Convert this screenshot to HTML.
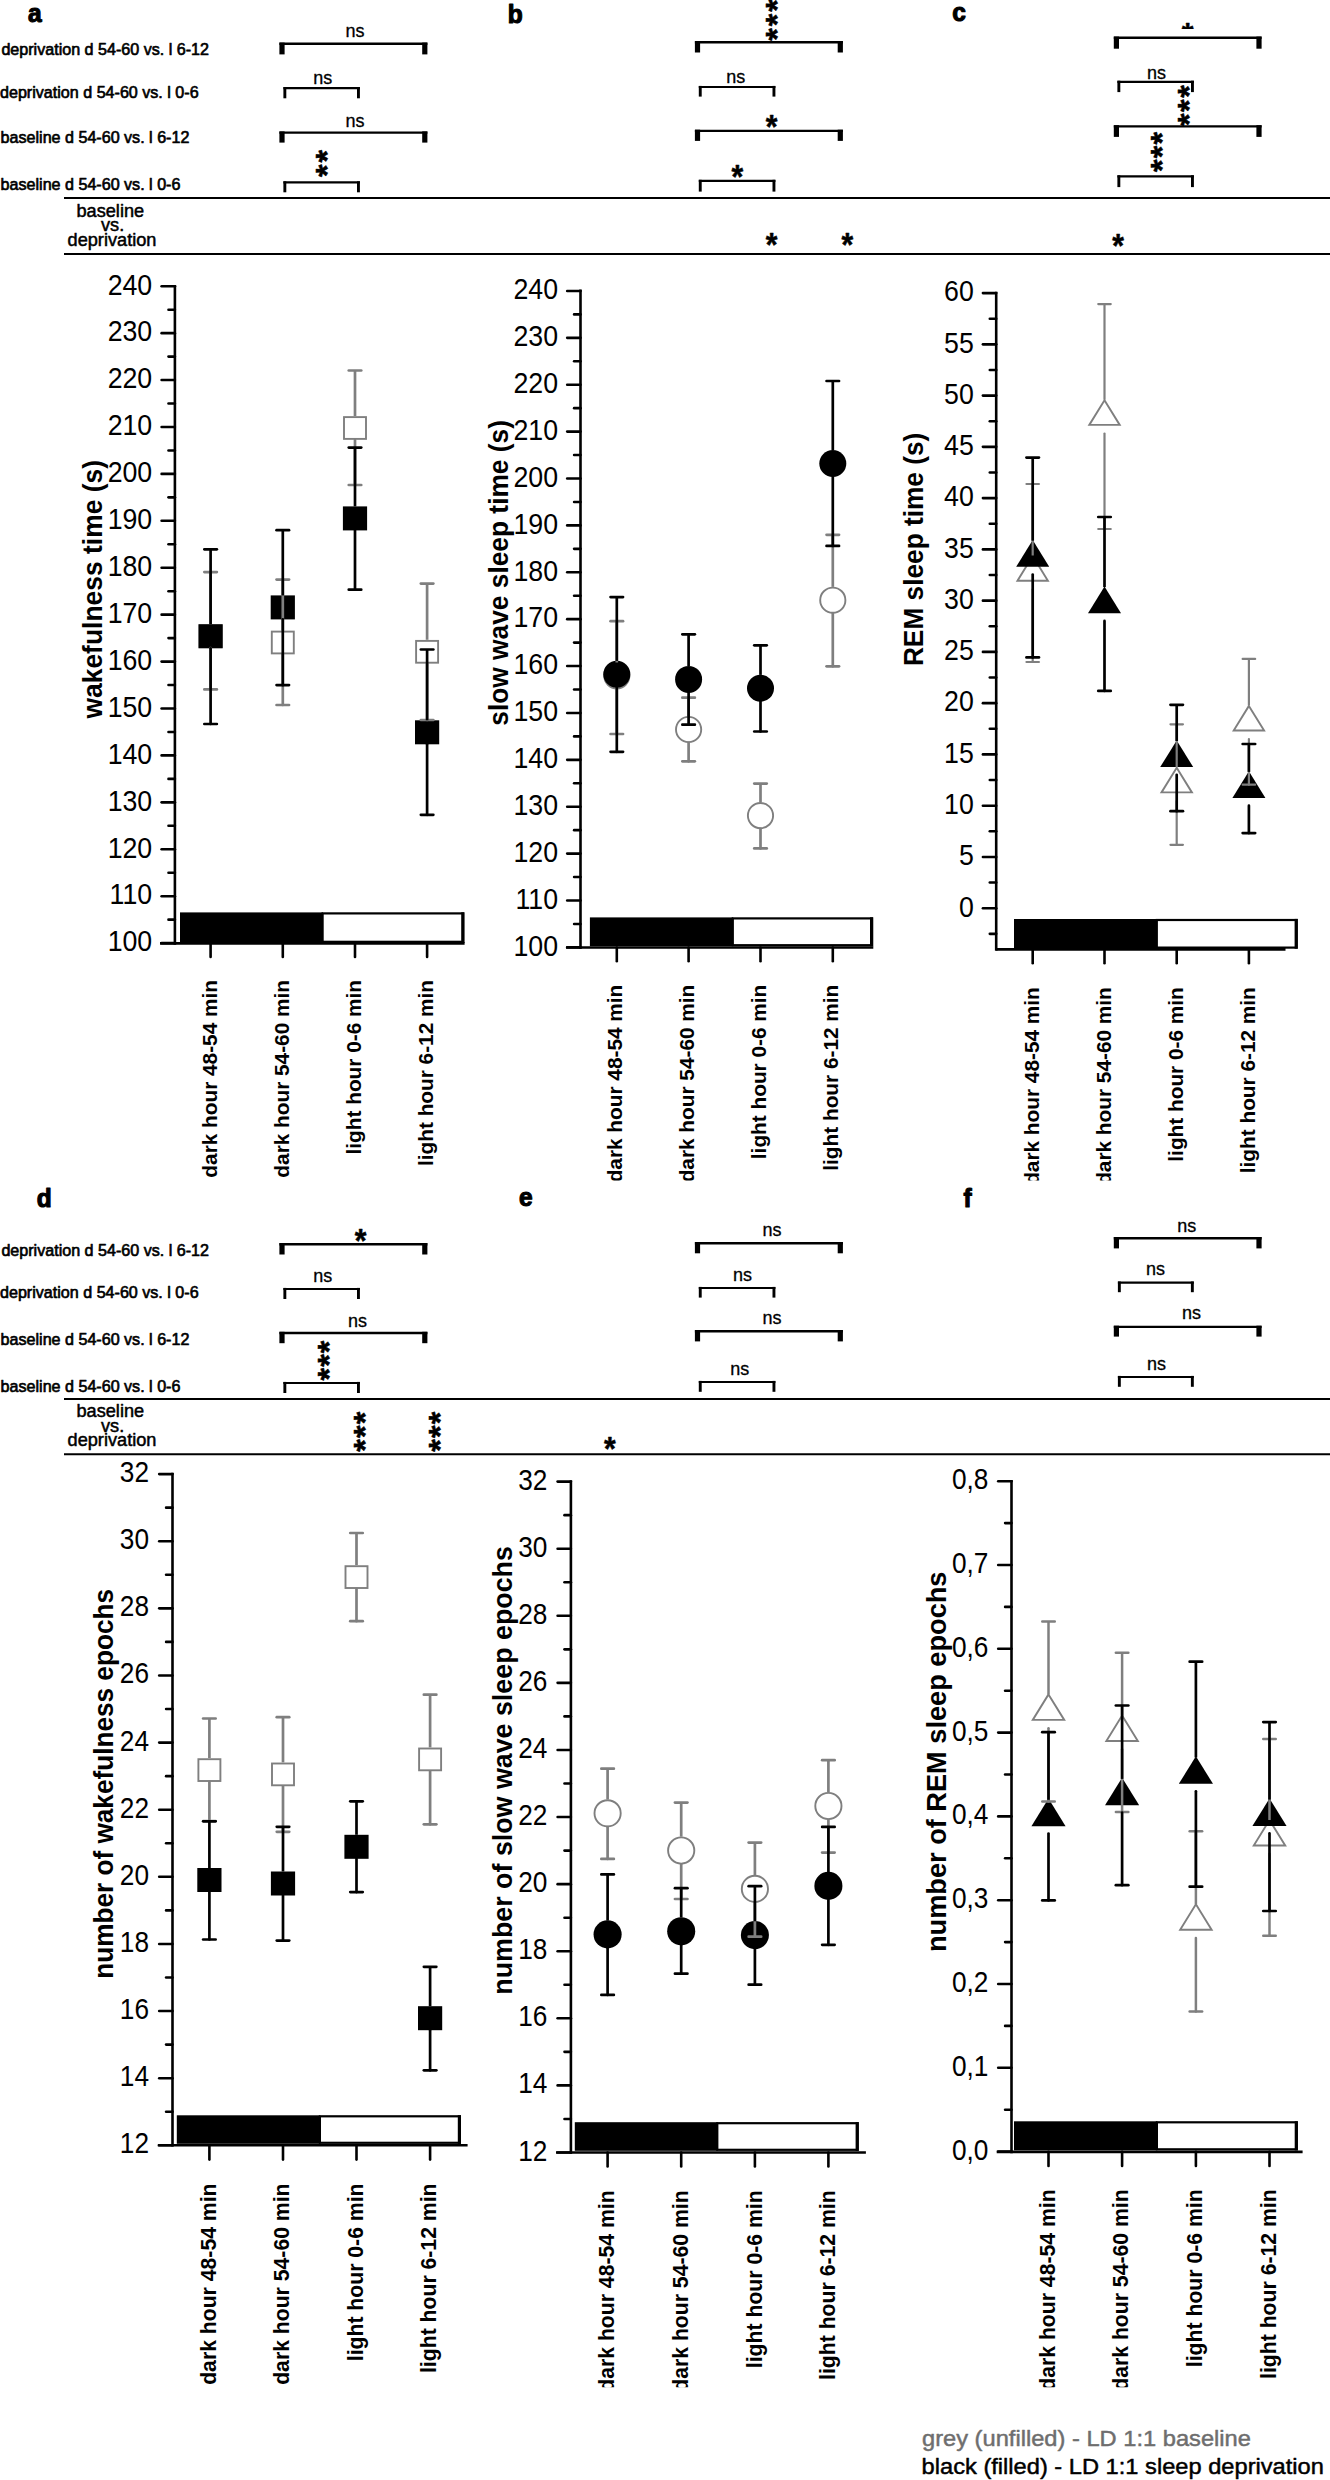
<!DOCTYPE html>
<html lang="en"><head><meta charset="utf-8"><title>Sleep deprivation figure</title>
<style>html,body{margin:0;padding:0;background:#fff}svg{display:block}</style></head><body>
<svg width="1330" height="2480" viewBox="0 0 1330 2480" font-family="'Liberation Sans', Arial, Helvetica, sans-serif">
<defs><clipPath id="cl1"><rect x="0" y="950" width="1330" height="230.6"/></clipPath><clipPath id="cl2"><rect x="0" y="2150" width="1330" height="237.2"/></clipPath><clipPath id="cl3"><rect x="1100" y="0" width="200" height="28.9"/></clipPath></defs>
<rect width="1330" height="2480" fill="#fff"/>
<text transform="translate(27.90,21.50) scale(1.0000,1.0400)" font-size="24.5" font-weight="bold" stroke="#000" stroke-width="1.1" stroke-linejoin="round">a</text>
<text transform="translate(507.80,23.30) scale(1.0000,1.0400)" font-size="24.5" font-weight="bold" stroke="#000" stroke-width="1.1" stroke-linejoin="round">b</text>
<text transform="translate(952.30,21.30) scale(1.0000,1.0400)" font-size="24.5" font-weight="bold" stroke="#000" stroke-width="1.1" stroke-linejoin="round">c</text>
<text transform="translate(36.80,1206.90) scale(1.0000,1.0400)" font-size="24.5" font-weight="bold" stroke="#000" stroke-width="1.1" stroke-linejoin="round">d</text>
<text transform="translate(518.90,1205.60) scale(1.0000,1.0400)" font-size="24.5" font-weight="bold" stroke="#000" stroke-width="1.1" stroke-linejoin="round">e</text>
<text transform="translate(963.40,1206.50) scale(1.0000,1.0400)" font-size="24.5" font-weight="bold" stroke="#000" stroke-width="1.1" stroke-linejoin="round">f</text>
<text transform="translate(1.40,54.90)" font-size="16.1" stroke="#000" stroke-width="0.65" stroke-linejoin="round">deprivation d 54-60 vs. l 6-12</text>
<text transform="translate(0.00,97.70)" font-size="16.1" stroke="#000" stroke-width="0.65" stroke-linejoin="round">deprivation d 54-60 vs. l 0-6</text>
<text transform="translate(0.60,143.30)" font-size="16.1" stroke="#000" stroke-width="0.65" stroke-linejoin="round">baseline d 54-60 vs. l 6-12</text>
<text transform="translate(0.60,190.00)" font-size="16.1" stroke="#000" stroke-width="0.65" stroke-linejoin="round">baseline d 54-60 vs. l 0-6</text>
<text transform="translate(1.40,1255.60)" font-size="16.1" stroke="#000" stroke-width="0.65" stroke-linejoin="round">deprivation d 54-60 vs. l 6-12</text>
<text transform="translate(0.00,1298.30)" font-size="16.1" stroke="#000" stroke-width="0.65" stroke-linejoin="round">deprivation d 54-60 vs. l 0-6</text>
<text transform="translate(0.60,1344.70)" font-size="16.1" stroke="#000" stroke-width="0.65" stroke-linejoin="round">baseline d 54-60 vs. l 6-12</text>
<text transform="translate(0.60,1391.70)" font-size="16.1" stroke="#000" stroke-width="0.65" stroke-linejoin="round">baseline d 54-60 vs. l 0-6</text>
<text transform="translate(110.30,216.50) scale(1.0000,0.9700)" font-size="18.2" text-anchor="middle" stroke="#000" stroke-width="0.5" stroke-linejoin="round">baseline</text>
<text transform="translate(112.60,231.10) scale(1.0000,0.9700)" font-size="18.2" text-anchor="middle" stroke="#000" stroke-width="0.5" stroke-linejoin="round">vs.</text>
<text transform="translate(112.00,245.50) scale(1.0000,0.9700)" font-size="18.2" text-anchor="middle" stroke="#000" stroke-width="0.5" stroke-linejoin="round">deprivation</text>
<text transform="translate(110.30,1416.90) scale(1.0000,0.9700)" font-size="18.2" text-anchor="middle" stroke="#000" stroke-width="0.5" stroke-linejoin="round">baseline</text>
<text transform="translate(112.60,1431.50) scale(1.0000,0.9700)" font-size="18.2" text-anchor="middle" stroke="#000" stroke-width="0.5" stroke-linejoin="round">vs.</text>
<text transform="translate(112.00,1445.90) scale(1.0000,0.9700)" font-size="18.2" text-anchor="middle" stroke="#000" stroke-width="0.5" stroke-linejoin="round">deprivation</text>
<line x1="64.00" y1="197.90" x2="1330.00" y2="197.90" stroke="#000" stroke-width="2.0"/>
<line x1="64.00" y1="254.10" x2="1330.00" y2="254.10" stroke="#000" stroke-width="2.0"/>
<line x1="64.00" y1="1398.90" x2="1330.00" y2="1398.90" stroke="#000" stroke-width="2.0"/>
<line x1="64.00" y1="1454.30" x2="1330.00" y2="1454.30" stroke="#000" stroke-width="2.0"/>
<line x1="279.40" y1="43.80" x2="427.40" y2="43.80" stroke="#000" stroke-width="2.4"/>
<rect x="279.40" y="42.60" width="5.20" height="11.80" fill="#000"/>
<rect x="422.20" y="42.60" width="5.20" height="11.80" fill="#000"/>
<text transform="translate(355.00,36.90)" font-size="18" text-anchor="middle" stroke="#000" stroke-width="0.3" stroke-linejoin="round">ns</text>
<line x1="283.40" y1="88.20" x2="359.90" y2="88.20" stroke="#000" stroke-width="2.2"/>
<rect x="283.40" y="87.10" width="2.90" height="11.20" fill="#000"/>
<rect x="357.00" y="87.10" width="2.90" height="11.20" fill="#000"/>
<text transform="translate(322.70,83.60)" font-size="18" text-anchor="middle" stroke="#000" stroke-width="0.3" stroke-linejoin="round">ns</text>
<line x1="279.40" y1="132.60" x2="427.40" y2="132.60" stroke="#000" stroke-width="2.4"/>
<rect x="279.40" y="131.40" width="5.20" height="11.20" fill="#000"/>
<rect x="422.20" y="131.40" width="5.20" height="11.20" fill="#000"/>
<text transform="translate(355.00,126.60)" font-size="18" text-anchor="middle" stroke="#000" stroke-width="0.3" stroke-linejoin="round">ns</text>
<line x1="283.40" y1="182.40" x2="359.90" y2="182.40" stroke="#000" stroke-width="2.2"/>
<rect x="283.40" y="181.30" width="2.90" height="11.00" fill="#000"/>
<rect x="357.00" y="181.30" width="2.90" height="11.00" fill="#000"/>
<text transform="translate(337.53,162.56) rotate(-90) scale(1.0036,0.9713)" font-size="32" font-weight="bold" stroke="#000" stroke-width="0.5" stroke-linejoin="round">*</text>
<text transform="translate(337.53,176.96) rotate(-90) scale(1.0036,0.9713)" font-size="32" font-weight="bold" stroke="#000" stroke-width="0.5" stroke-linejoin="round">*</text>
<line x1="694.90" y1="42.30" x2="842.90" y2="42.30" stroke="#000" stroke-width="2.4"/>
<rect x="694.90" y="41.10" width="5.20" height="11.40" fill="#000"/>
<rect x="837.70" y="41.10" width="5.20" height="11.40" fill="#000"/>
<text transform="translate(787.73,11.86) rotate(-90) scale(1.0036,0.9713)" font-size="32" font-weight="bold" stroke="#000" stroke-width="0.5" stroke-linejoin="round">*</text>
<text transform="translate(787.73,26.31) rotate(-90) scale(1.0036,0.9713)" font-size="32" font-weight="bold" stroke="#000" stroke-width="0.5" stroke-linejoin="round">*</text>
<text transform="translate(787.73,40.76) rotate(-90) scale(1.0036,0.9713)" font-size="32" font-weight="bold" stroke="#000" stroke-width="0.5" stroke-linejoin="round">*</text>
<line x1="698.80" y1="87.00" x2="775.40" y2="87.00" stroke="#000" stroke-width="2.2"/>
<rect x="698.80" y="85.90" width="2.90" height="10.70" fill="#000"/>
<rect x="772.50" y="85.90" width="2.90" height="10.70" fill="#000"/>
<text transform="translate(735.70,82.60)" font-size="18" text-anchor="middle" stroke="#000" stroke-width="0.3" stroke-linejoin="round">ns</text>
<line x1="694.90" y1="130.90" x2="842.90" y2="130.90" stroke="#000" stroke-width="2.4"/>
<rect x="694.90" y="129.70" width="5.20" height="11.20" fill="#000"/>
<rect x="837.70" y="129.70" width="5.20" height="11.20" fill="#000"/>
<text transform="translate(765.65,137.66) scale(0.9383,1.0473)" font-size="32" font-weight="bold" stroke="#000" stroke-width="0.5" stroke-linejoin="round">*</text>
<line x1="698.80" y1="180.90" x2="775.40" y2="180.90" stroke="#000" stroke-width="2.2"/>
<rect x="698.80" y="179.80" width="2.90" height="11.80" fill="#000"/>
<rect x="772.50" y="179.80" width="2.90" height="11.80" fill="#000"/>
<text transform="translate(731.55,187.76) scale(0.9383,1.0473)" font-size="32" font-weight="bold" stroke="#000" stroke-width="0.5" stroke-linejoin="round">*</text>
<text transform="translate(765.65,256.26) scale(0.9383,1.0473)" font-size="32" font-weight="bold" stroke="#000" stroke-width="0.5" stroke-linejoin="round">*</text>
<text transform="translate(841.45,256.26) scale(0.9383,1.0473)" font-size="32" font-weight="bold" stroke="#000" stroke-width="0.5" stroke-linejoin="round">*</text>
<line x1="1113.80" y1="37.80" x2="1261.60" y2="37.80" stroke="#000" stroke-width="2.4"/>
<rect x="1113.80" y="36.60" width="5.20" height="12.10" fill="#000"/>
<rect x="1256.40" y="36.60" width="5.20" height="12.10" fill="#000"/>
<g clip-path="url(#cl3)">
<text transform="translate(1181.85,45.66) scale(0.9465,1.0473)" font-size="32" font-weight="bold" stroke="#000" stroke-width="0.5" stroke-linejoin="round">*</text>
</g>
<line x1="1117.40" y1="81.80" x2="1193.90" y2="81.80" stroke="#000" stroke-width="2.2"/>
<rect x="1117.40" y="80.70" width="2.90" height="11.40" fill="#000"/>
<rect x="1191.00" y="80.70" width="2.90" height="11.40" fill="#000"/>
<text transform="translate(1156.50,79.10)" font-size="18" text-anchor="middle" stroke="#000" stroke-width="0.3" stroke-linejoin="round">ns</text>
<text transform="translate(1200.13,97.76) rotate(-90) scale(1.0036,0.9713)" font-size="32" font-weight="bold" stroke="#000" stroke-width="0.5" stroke-linejoin="round">*</text>
<text transform="translate(1200.13,111.91) rotate(-90) scale(1.0036,0.9713)" font-size="32" font-weight="bold" stroke="#000" stroke-width="0.5" stroke-linejoin="round">*</text>
<text transform="translate(1200.13,126.06) rotate(-90) scale(1.0036,0.9713)" font-size="32" font-weight="bold" stroke="#000" stroke-width="0.5" stroke-linejoin="round">*</text>
<line x1="1113.80" y1="126.40" x2="1261.60" y2="126.40" stroke="#000" stroke-width="2.4"/>
<rect x="1113.80" y="125.20" width="5.20" height="11.70" fill="#000"/>
<rect x="1256.40" y="125.20" width="5.20" height="11.70" fill="#000"/>
<text transform="translate(1172.73,144.46) rotate(-90) scale(1.0036,0.9713)" font-size="32" font-weight="bold" stroke="#000" stroke-width="0.5" stroke-linejoin="round">*</text>
<text transform="translate(1172.73,158.26) rotate(-90) scale(1.0036,0.9713)" font-size="32" font-weight="bold" stroke="#000" stroke-width="0.5" stroke-linejoin="round">*</text>
<text transform="translate(1172.73,172.06) rotate(-90) scale(1.0036,0.9713)" font-size="32" font-weight="bold" stroke="#000" stroke-width="0.5" stroke-linejoin="round">*</text>
<line x1="1117.40" y1="176.40" x2="1193.90" y2="176.40" stroke="#000" stroke-width="2.2"/>
<rect x="1117.40" y="175.30" width="2.90" height="11.80" fill="#000"/>
<rect x="1191.00" y="175.30" width="2.90" height="11.80" fill="#000"/>
<text transform="translate(1112.15,256.56) scale(0.9383,1.0473)" font-size="32" font-weight="bold" stroke="#000" stroke-width="0.5" stroke-linejoin="round">*</text>
<line x1="279.40" y1="1244.30" x2="427.40" y2="1244.30" stroke="#000" stroke-width="2.4"/>
<rect x="279.40" y="1243.10" width="5.20" height="11.40" fill="#000"/>
<rect x="422.20" y="1243.10" width="5.20" height="11.40" fill="#000"/>
<text transform="translate(354.85,1251.86) scale(0.9383,1.0473)" font-size="32" font-weight="bold" stroke="#000" stroke-width="0.5" stroke-linejoin="round">*</text>
<line x1="283.40" y1="1289.00" x2="359.90" y2="1289.00" stroke="#000" stroke-width="2.2"/>
<rect x="283.40" y="1287.90" width="2.90" height="11.10" fill="#000"/>
<rect x="357.00" y="1287.90" width="2.90" height="11.10" fill="#000"/>
<text transform="translate(322.70,1282.10)" font-size="18" text-anchor="middle" stroke="#000" stroke-width="0.3" stroke-linejoin="round">ns</text>
<line x1="279.40" y1="1333.00" x2="427.40" y2="1333.00" stroke="#000" stroke-width="2.4"/>
<rect x="279.40" y="1331.80" width="5.20" height="11.40" fill="#000"/>
<rect x="422.20" y="1331.80" width="5.20" height="11.40" fill="#000"/>
<text transform="translate(357.50,1327.10)" font-size="18" text-anchor="middle" stroke="#000" stroke-width="0.3" stroke-linejoin="round">ns</text>
<line x1="283.40" y1="1383.00" x2="359.90" y2="1383.00" stroke="#000" stroke-width="2.2"/>
<rect x="283.40" y="1381.90" width="2.90" height="11.10" fill="#000"/>
<rect x="357.00" y="1381.90" width="2.90" height="11.10" fill="#000"/>
<text transform="translate(339.93,1353.16) rotate(-90) scale(1.0036,0.9713)" font-size="32" font-weight="bold" stroke="#000" stroke-width="0.5" stroke-linejoin="round">*</text>
<text transform="translate(339.93,1366.81) rotate(-90) scale(1.0036,0.9713)" font-size="32" font-weight="bold" stroke="#000" stroke-width="0.5" stroke-linejoin="round">*</text>
<text transform="translate(339.93,1380.46) rotate(-90) scale(1.0036,0.9713)" font-size="32" font-weight="bold" stroke="#000" stroke-width="0.5" stroke-linejoin="round">*</text>
<text transform="translate(375.93,1424.26) rotate(-90) scale(1.0036,0.9713)" font-size="32" font-weight="bold" stroke="#000" stroke-width="0.5" stroke-linejoin="round">*</text>
<text transform="translate(375.93,1438.06) rotate(-90) scale(1.0036,0.9713)" font-size="32" font-weight="bold" stroke="#000" stroke-width="0.5" stroke-linejoin="round">*</text>
<text transform="translate(375.93,1451.86) rotate(-90) scale(1.0036,0.9713)" font-size="32" font-weight="bold" stroke="#000" stroke-width="0.5" stroke-linejoin="round">*</text>
<text transform="translate(451.23,1424.26) rotate(-90) scale(1.0036,0.9713)" font-size="32" font-weight="bold" stroke="#000" stroke-width="0.5" stroke-linejoin="round">*</text>
<text transform="translate(451.23,1438.06) rotate(-90) scale(1.0036,0.9713)" font-size="32" font-weight="bold" stroke="#000" stroke-width="0.5" stroke-linejoin="round">*</text>
<text transform="translate(451.23,1451.86) rotate(-90) scale(1.0036,0.9713)" font-size="32" font-weight="bold" stroke="#000" stroke-width="0.5" stroke-linejoin="round">*</text>
<line x1="694.90" y1="1243.30" x2="842.90" y2="1243.30" stroke="#000" stroke-width="2.4"/>
<rect x="694.90" y="1242.10" width="5.20" height="11.20" fill="#000"/>
<rect x="837.70" y="1242.10" width="5.20" height="11.20" fill="#000"/>
<text transform="translate(771.90,1236.10)" font-size="18" text-anchor="middle" stroke="#000" stroke-width="0.3" stroke-linejoin="round">ns</text>
<line x1="698.80" y1="1288.00" x2="775.40" y2="1288.00" stroke="#000" stroke-width="2.2"/>
<rect x="698.80" y="1286.90" width="2.90" height="10.70" fill="#000"/>
<rect x="772.50" y="1286.90" width="2.90" height="10.70" fill="#000"/>
<text transform="translate(742.50,1281.10)" font-size="18" text-anchor="middle" stroke="#000" stroke-width="0.3" stroke-linejoin="round">ns</text>
<line x1="694.90" y1="1331.30" x2="842.90" y2="1331.30" stroke="#000" stroke-width="2.4"/>
<rect x="694.90" y="1330.10" width="5.20" height="11.30" fill="#000"/>
<rect x="837.70" y="1330.10" width="5.20" height="11.30" fill="#000"/>
<text transform="translate(771.90,1324.10)" font-size="18" text-anchor="middle" stroke="#000" stroke-width="0.3" stroke-linejoin="round">ns</text>
<line x1="698.80" y1="1382.00" x2="775.40" y2="1382.00" stroke="#000" stroke-width="2.2"/>
<rect x="698.80" y="1380.90" width="2.90" height="10.90" fill="#000"/>
<rect x="772.50" y="1380.90" width="2.90" height="10.90" fill="#000"/>
<text transform="translate(739.80,1374.80)" font-size="18" text-anchor="middle" stroke="#000" stroke-width="0.3" stroke-linejoin="round">ns</text>
<text transform="translate(604.05,1460.06) scale(0.9383,1.0473)" font-size="32" font-weight="bold" stroke="#000" stroke-width="0.5" stroke-linejoin="round">*</text>
<line x1="1113.80" y1="1238.20" x2="1261.60" y2="1238.20" stroke="#000" stroke-width="2.4"/>
<rect x="1113.80" y="1237.00" width="5.20" height="11.40" fill="#000"/>
<rect x="1256.40" y="1237.00" width="5.20" height="11.40" fill="#000"/>
<text transform="translate(1186.70,1232.10)" font-size="18" text-anchor="middle" stroke="#000" stroke-width="0.3" stroke-linejoin="round">ns</text>
<line x1="1117.90" y1="1282.60" x2="1193.80" y2="1282.60" stroke="#000" stroke-width="2.2"/>
<rect x="1117.90" y="1281.50" width="2.90" height="10.70" fill="#000"/>
<rect x="1190.90" y="1281.50" width="2.90" height="10.70" fill="#000"/>
<text transform="translate(1155.40,1275.00)" font-size="18" text-anchor="middle" stroke="#000" stroke-width="0.3" stroke-linejoin="round">ns</text>
<line x1="1113.80" y1="1326.90" x2="1261.60" y2="1326.90" stroke="#000" stroke-width="2.4"/>
<rect x="1113.80" y="1325.70" width="5.20" height="10.90" fill="#000"/>
<rect x="1256.40" y="1325.70" width="5.20" height="10.90" fill="#000"/>
<text transform="translate(1191.60,1319.00)" font-size="18" text-anchor="middle" stroke="#000" stroke-width="0.3" stroke-linejoin="round">ns</text>
<line x1="1117.90" y1="1377.00" x2="1193.80" y2="1377.00" stroke="#000" stroke-width="2.2"/>
<rect x="1117.90" y="1375.90" width="2.90" height="10.90" fill="#000"/>
<rect x="1190.90" y="1375.90" width="2.90" height="10.90" fill="#000"/>
<text transform="translate(1156.60,1369.80)" font-size="18" text-anchor="middle" stroke="#000" stroke-width="0.3" stroke-linejoin="round">ns</text>
<line x1="174.90" y1="284.90" x2="174.90" y2="944.70" stroke="#000" stroke-width="2.6"/>
<line x1="160.00" y1="943.40" x2="464.60" y2="943.40" stroke="#000" stroke-width="2.6"/>
<line x1="161.60" y1="943.10" x2="174.90" y2="943.10" stroke="#000" stroke-width="2.6" stroke-linecap="round"/>
<line x1="161.60" y1="896.18" x2="174.90" y2="896.18" stroke="#000" stroke-width="2.6" stroke-linecap="round"/>
<line x1="161.60" y1="849.26" x2="174.90" y2="849.26" stroke="#000" stroke-width="2.6" stroke-linecap="round"/>
<line x1="161.60" y1="802.34" x2="174.90" y2="802.34" stroke="#000" stroke-width="2.6" stroke-linecap="round"/>
<line x1="161.60" y1="755.42" x2="174.90" y2="755.42" stroke="#000" stroke-width="2.6" stroke-linecap="round"/>
<line x1="161.60" y1="708.50" x2="174.90" y2="708.50" stroke="#000" stroke-width="2.6" stroke-linecap="round"/>
<line x1="161.60" y1="661.58" x2="174.90" y2="661.58" stroke="#000" stroke-width="2.6" stroke-linecap="round"/>
<line x1="161.60" y1="614.66" x2="174.90" y2="614.66" stroke="#000" stroke-width="2.6" stroke-linecap="round"/>
<line x1="161.60" y1="567.74" x2="174.90" y2="567.74" stroke="#000" stroke-width="2.6" stroke-linecap="round"/>
<line x1="161.60" y1="520.82" x2="174.90" y2="520.82" stroke="#000" stroke-width="2.6" stroke-linecap="round"/>
<line x1="161.60" y1="473.90" x2="174.90" y2="473.90" stroke="#000" stroke-width="2.6" stroke-linecap="round"/>
<line x1="161.60" y1="426.98" x2="174.90" y2="426.98" stroke="#000" stroke-width="2.6" stroke-linecap="round"/>
<line x1="161.60" y1="380.06" x2="174.90" y2="380.06" stroke="#000" stroke-width="2.6" stroke-linecap="round"/>
<line x1="161.60" y1="333.14" x2="174.90" y2="333.14" stroke="#000" stroke-width="2.6" stroke-linecap="round"/>
<line x1="161.60" y1="286.22" x2="174.90" y2="286.22" stroke="#000" stroke-width="2.6" stroke-linecap="round"/>
<line x1="168.50" y1="919.64" x2="174.90" y2="919.64" stroke="#000" stroke-width="2.6" stroke-linecap="round"/>
<line x1="168.50" y1="872.72" x2="174.90" y2="872.72" stroke="#000" stroke-width="2.6" stroke-linecap="round"/>
<line x1="168.50" y1="825.80" x2="174.90" y2="825.80" stroke="#000" stroke-width="2.6" stroke-linecap="round"/>
<line x1="168.50" y1="778.88" x2="174.90" y2="778.88" stroke="#000" stroke-width="2.6" stroke-linecap="round"/>
<line x1="168.50" y1="731.96" x2="174.90" y2="731.96" stroke="#000" stroke-width="2.6" stroke-linecap="round"/>
<line x1="168.50" y1="685.04" x2="174.90" y2="685.04" stroke="#000" stroke-width="2.6" stroke-linecap="round"/>
<line x1="168.50" y1="638.12" x2="174.90" y2="638.12" stroke="#000" stroke-width="2.6" stroke-linecap="round"/>
<line x1="168.50" y1="591.20" x2="174.90" y2="591.20" stroke="#000" stroke-width="2.6" stroke-linecap="round"/>
<line x1="168.50" y1="544.28" x2="174.90" y2="544.28" stroke="#000" stroke-width="2.6" stroke-linecap="round"/>
<line x1="168.50" y1="497.36" x2="174.90" y2="497.36" stroke="#000" stroke-width="2.6" stroke-linecap="round"/>
<line x1="168.50" y1="450.44" x2="174.90" y2="450.44" stroke="#000" stroke-width="2.6" stroke-linecap="round"/>
<line x1="168.50" y1="403.52" x2="174.90" y2="403.52" stroke="#000" stroke-width="2.6" stroke-linecap="round"/>
<line x1="168.50" y1="356.60" x2="174.90" y2="356.60" stroke="#000" stroke-width="2.6" stroke-linecap="round"/>
<line x1="168.50" y1="309.68" x2="174.90" y2="309.68" stroke="#000" stroke-width="2.6" stroke-linecap="round"/>
<text transform="translate(152.20,951.40) scale(0.9280,1.0000)" font-size="28.8" text-anchor="end">100</text>
<text transform="translate(152.20,904.48) scale(0.9280,1.0000)" font-size="28.8" text-anchor="end">110</text>
<text transform="translate(152.20,857.56) scale(0.9280,1.0000)" font-size="28.8" text-anchor="end">120</text>
<text transform="translate(152.20,810.64) scale(0.9280,1.0000)" font-size="28.8" text-anchor="end">130</text>
<text transform="translate(152.20,763.72) scale(0.9280,1.0000)" font-size="28.8" text-anchor="end">140</text>
<text transform="translate(152.20,716.80) scale(0.9280,1.0000)" font-size="28.8" text-anchor="end">150</text>
<text transform="translate(152.20,669.88) scale(0.9280,1.0000)" font-size="28.8" text-anchor="end">160</text>
<text transform="translate(152.20,622.96) scale(0.9280,1.0000)" font-size="28.8" text-anchor="end">170</text>
<text transform="translate(152.20,576.04) scale(0.9280,1.0000)" font-size="28.8" text-anchor="end">180</text>
<text transform="translate(152.20,529.12) scale(0.9280,1.0000)" font-size="28.8" text-anchor="end">190</text>
<text transform="translate(152.20,482.20) scale(0.9280,1.0000)" font-size="28.8" text-anchor="end">200</text>
<text transform="translate(152.20,435.28) scale(0.9280,1.0000)" font-size="28.8" text-anchor="end">210</text>
<text transform="translate(152.20,388.36) scale(0.9280,1.0000)" font-size="28.8" text-anchor="end">220</text>
<text transform="translate(152.20,341.44) scale(0.9280,1.0000)" font-size="28.8" text-anchor="end">230</text>
<text transform="translate(152.20,294.52) scale(0.9280,1.0000)" font-size="28.8" text-anchor="end">240</text>
<line x1="210.60" y1="943.40" x2="210.60" y2="957.00" stroke="#000" stroke-width="2.6" stroke-linecap="round"/>
<line x1="282.80" y1="943.40" x2="282.80" y2="957.00" stroke="#000" stroke-width="2.6" stroke-linecap="round"/>
<line x1="355.00" y1="943.40" x2="355.00" y2="957.00" stroke="#000" stroke-width="2.6" stroke-linecap="round"/>
<line x1="427.10" y1="943.40" x2="427.10" y2="957.00" stroke="#000" stroke-width="2.6" stroke-linecap="round"/>
<rect x="180.00" y="912.40" width="143.10" height="30.40" fill="#000"/>
<rect x="322.60" y="913.40" width="140.60" height="28.40" fill="#fff" stroke="#000" stroke-width="2.2"/>
<line x1="462.80" y1="912.30" x2="462.80" y2="942.90" stroke="#000" stroke-width="3.2"/>
<text transform="translate(216.50,980.00) rotate(-90)" font-size="20.8" font-weight="bold" text-anchor="end">dark hour 48-54 min</text>
<text transform="translate(288.70,980.00) rotate(-90)" font-size="20.8" font-weight="bold" text-anchor="end">dark hour 54-60 min</text>
<text transform="translate(360.90,980.00) rotate(-90)" font-size="20.8" font-weight="bold" text-anchor="end">light hour 0-6 min</text>
<text transform="translate(433.00,980.00) rotate(-90)" font-size="20.8" font-weight="bold" text-anchor="end">light hour 6-12 min</text>
<text transform="translate(102.30,589.30) rotate(-90)" font-size="27" font-weight="bold" text-anchor="middle" textLength="258.6" lengthAdjust="spacingAndGlyphs">wakefulness time (s)</text>
<rect x="199.60" y="625.10" width="22.00" height="21.80" fill="#fff" stroke="#7f7f7f" stroke-width="1.9"/>
<rect x="271.80" y="631.60" width="22.00" height="21.80" fill="#fff" stroke="#7f7f7f" stroke-width="1.9"/>
<rect x="344.00" y="417.10" width="22.00" height="21.80" fill="#fff" stroke="#7f7f7f" stroke-width="1.9"/>
<rect x="416.10" y="640.90" width="22.00" height="21.80" fill="#fff" stroke="#7f7f7f" stroke-width="1.9"/>
<rect x="198.50" y="624.30" width="24.20" height="24.00" fill="#000"/>
<rect x="270.70" y="595.40" width="24.20" height="24.00" fill="#000"/>
<rect x="342.90" y="506.40" width="24.20" height="24.00" fill="#000"/>
<rect x="415.00" y="720.30" width="24.20" height="24.00" fill="#000"/>
<line x1="210.60" y1="572.10" x2="210.60" y2="624.00" stroke="#7f7f7f" stroke-width="2.7"/>
<line x1="210.60" y1="648.00" x2="210.60" y2="689.40" stroke="#7f7f7f" stroke-width="2.7" stroke-linecap="round"/>
<line x1="204.35" y1="572.10" x2="216.85" y2="572.10" stroke="#7f7f7f" stroke-width="2.7" stroke-linecap="round"/>
<line x1="204.35" y1="689.40" x2="216.85" y2="689.40" stroke="#7f7f7f" stroke-width="2.7" stroke-linecap="round"/>
<line x1="282.80" y1="579.60" x2="282.80" y2="630.50" stroke="#7f7f7f" stroke-width="2.7"/>
<line x1="282.80" y1="654.50" x2="282.80" y2="705.00" stroke="#7f7f7f" stroke-width="2.7" stroke-linecap="round"/>
<line x1="276.55" y1="579.60" x2="289.05" y2="579.60" stroke="#7f7f7f" stroke-width="2.7" stroke-linecap="round"/>
<line x1="276.55" y1="705.00" x2="289.05" y2="705.00" stroke="#7f7f7f" stroke-width="2.7" stroke-linecap="round"/>
<line x1="355.00" y1="370.50" x2="355.00" y2="416.00" stroke="#7f7f7f" stroke-width="2.7"/>
<line x1="355.00" y1="440.00" x2="355.00" y2="485.00" stroke="#7f7f7f" stroke-width="2.7" stroke-linecap="round"/>
<line x1="348.75" y1="370.50" x2="361.25" y2="370.50" stroke="#7f7f7f" stroke-width="2.7" stroke-linecap="round"/>
<line x1="348.75" y1="485.00" x2="361.25" y2="485.00" stroke="#7f7f7f" stroke-width="2.7" stroke-linecap="round"/>
<line x1="427.10" y1="583.60" x2="427.10" y2="639.80" stroke="#7f7f7f" stroke-width="2.7"/>
<line x1="427.10" y1="663.80" x2="427.10" y2="720.00" stroke="#7f7f7f" stroke-width="2.7" stroke-linecap="round"/>
<line x1="420.85" y1="583.60" x2="433.35" y2="583.60" stroke="#7f7f7f" stroke-width="2.7" stroke-linecap="round"/>
<line x1="420.85" y1="720.00" x2="433.35" y2="720.00" stroke="#7f7f7f" stroke-width="2.7" stroke-linecap="round"/>
<line x1="210.60" y1="549.30" x2="210.60" y2="624.30" stroke="#000" stroke-width="2.7"/>
<line x1="210.60" y1="648.30" x2="210.60" y2="724.00" stroke="#000" stroke-width="2.7" stroke-linecap="round"/>
<line x1="204.35" y1="549.30" x2="216.85" y2="549.30" stroke="#000" stroke-width="2.7" stroke-linecap="round"/>
<line x1="204.35" y1="724.00" x2="216.85" y2="724.00" stroke="#000" stroke-width="2.7" stroke-linecap="round"/>
<line x1="282.80" y1="530.20" x2="282.80" y2="595.40" stroke="#000" stroke-width="2.7"/>
<line x1="282.80" y1="619.40" x2="282.80" y2="685.10" stroke="#000" stroke-width="2.7" stroke-linecap="round"/>
<line x1="276.55" y1="530.20" x2="289.05" y2="530.20" stroke="#000" stroke-width="2.7" stroke-linecap="round"/>
<line x1="276.55" y1="685.10" x2="289.05" y2="685.10" stroke="#000" stroke-width="2.7" stroke-linecap="round"/>
<line x1="355.00" y1="447.60" x2="355.00" y2="506.40" stroke="#000" stroke-width="2.7"/>
<line x1="355.00" y1="530.40" x2="355.00" y2="589.70" stroke="#000" stroke-width="2.7" stroke-linecap="round"/>
<line x1="348.75" y1="447.60" x2="361.25" y2="447.60" stroke="#000" stroke-width="2.7" stroke-linecap="round"/>
<line x1="348.75" y1="589.70" x2="361.25" y2="589.70" stroke="#000" stroke-width="2.7" stroke-linecap="round"/>
<line x1="427.10" y1="649.50" x2="427.10" y2="720.30" stroke="#000" stroke-width="2.7"/>
<line x1="427.10" y1="744.30" x2="427.10" y2="814.80" stroke="#000" stroke-width="2.7" stroke-linecap="round"/>
<line x1="420.85" y1="649.50" x2="433.35" y2="649.50" stroke="#000" stroke-width="2.7" stroke-linecap="round"/>
<line x1="420.85" y1="814.80" x2="433.35" y2="814.80" stroke="#000" stroke-width="2.7" stroke-linecap="round"/>
<line x1="580.50" y1="289.60" x2="580.50" y2="948.80" stroke="#000" stroke-width="2.6"/>
<line x1="566.00" y1="947.50" x2="873.30" y2="947.50" stroke="#000" stroke-width="2.6"/>
<line x1="567.20" y1="947.40" x2="580.50" y2="947.40" stroke="#000" stroke-width="2.6" stroke-linecap="round"/>
<line x1="567.20" y1="900.51" x2="580.50" y2="900.51" stroke="#000" stroke-width="2.6" stroke-linecap="round"/>
<line x1="567.20" y1="853.62" x2="580.50" y2="853.62" stroke="#000" stroke-width="2.6" stroke-linecap="round"/>
<line x1="567.20" y1="806.73" x2="580.50" y2="806.73" stroke="#000" stroke-width="2.6" stroke-linecap="round"/>
<line x1="567.20" y1="759.84" x2="580.50" y2="759.84" stroke="#000" stroke-width="2.6" stroke-linecap="round"/>
<line x1="567.20" y1="712.95" x2="580.50" y2="712.95" stroke="#000" stroke-width="2.6" stroke-linecap="round"/>
<line x1="567.20" y1="666.06" x2="580.50" y2="666.06" stroke="#000" stroke-width="2.6" stroke-linecap="round"/>
<line x1="567.20" y1="619.17" x2="580.50" y2="619.17" stroke="#000" stroke-width="2.6" stroke-linecap="round"/>
<line x1="567.20" y1="572.28" x2="580.50" y2="572.28" stroke="#000" stroke-width="2.6" stroke-linecap="round"/>
<line x1="567.20" y1="525.39" x2="580.50" y2="525.39" stroke="#000" stroke-width="2.6" stroke-linecap="round"/>
<line x1="567.20" y1="478.50" x2="580.50" y2="478.50" stroke="#000" stroke-width="2.6" stroke-linecap="round"/>
<line x1="567.20" y1="431.61" x2="580.50" y2="431.61" stroke="#000" stroke-width="2.6" stroke-linecap="round"/>
<line x1="567.20" y1="384.72" x2="580.50" y2="384.72" stroke="#000" stroke-width="2.6" stroke-linecap="round"/>
<line x1="567.20" y1="337.83" x2="580.50" y2="337.83" stroke="#000" stroke-width="2.6" stroke-linecap="round"/>
<line x1="567.20" y1="290.94" x2="580.50" y2="290.94" stroke="#000" stroke-width="2.6" stroke-linecap="round"/>
<line x1="574.10" y1="923.95" x2="580.50" y2="923.95" stroke="#000" stroke-width="2.6" stroke-linecap="round"/>
<line x1="574.10" y1="877.06" x2="580.50" y2="877.06" stroke="#000" stroke-width="2.6" stroke-linecap="round"/>
<line x1="574.10" y1="830.17" x2="580.50" y2="830.17" stroke="#000" stroke-width="2.6" stroke-linecap="round"/>
<line x1="574.10" y1="783.28" x2="580.50" y2="783.28" stroke="#000" stroke-width="2.6" stroke-linecap="round"/>
<line x1="574.10" y1="736.39" x2="580.50" y2="736.39" stroke="#000" stroke-width="2.6" stroke-linecap="round"/>
<line x1="574.10" y1="689.50" x2="580.50" y2="689.50" stroke="#000" stroke-width="2.6" stroke-linecap="round"/>
<line x1="574.10" y1="642.62" x2="580.50" y2="642.62" stroke="#000" stroke-width="2.6" stroke-linecap="round"/>
<line x1="574.10" y1="595.72" x2="580.50" y2="595.72" stroke="#000" stroke-width="2.6" stroke-linecap="round"/>
<line x1="574.10" y1="548.84" x2="580.50" y2="548.84" stroke="#000" stroke-width="2.6" stroke-linecap="round"/>
<line x1="574.10" y1="501.94" x2="580.50" y2="501.94" stroke="#000" stroke-width="2.6" stroke-linecap="round"/>
<line x1="574.10" y1="455.05" x2="580.50" y2="455.05" stroke="#000" stroke-width="2.6" stroke-linecap="round"/>
<line x1="574.10" y1="408.16" x2="580.50" y2="408.16" stroke="#000" stroke-width="2.6" stroke-linecap="round"/>
<line x1="574.10" y1="361.27" x2="580.50" y2="361.27" stroke="#000" stroke-width="2.6" stroke-linecap="round"/>
<line x1="574.10" y1="314.38" x2="580.50" y2="314.38" stroke="#000" stroke-width="2.6" stroke-linecap="round"/>
<text transform="translate(558.00,955.70) scale(0.9280,1.0000)" font-size="28.8" text-anchor="end">100</text>
<text transform="translate(558.00,908.81) scale(0.9280,1.0000)" font-size="28.8" text-anchor="end">110</text>
<text transform="translate(558.00,861.92) scale(0.9280,1.0000)" font-size="28.8" text-anchor="end">120</text>
<text transform="translate(558.00,815.03) scale(0.9280,1.0000)" font-size="28.8" text-anchor="end">130</text>
<text transform="translate(558.00,768.14) scale(0.9280,1.0000)" font-size="28.8" text-anchor="end">140</text>
<text transform="translate(558.00,721.25) scale(0.9280,1.0000)" font-size="28.8" text-anchor="end">150</text>
<text transform="translate(558.00,674.36) scale(0.9280,1.0000)" font-size="28.8" text-anchor="end">160</text>
<text transform="translate(558.00,627.47) scale(0.9280,1.0000)" font-size="28.8" text-anchor="end">170</text>
<text transform="translate(558.00,580.58) scale(0.9280,1.0000)" font-size="28.8" text-anchor="end">180</text>
<text transform="translate(558.00,533.69) scale(0.9280,1.0000)" font-size="28.8" text-anchor="end">190</text>
<text transform="translate(558.00,486.80) scale(0.9280,1.0000)" font-size="28.8" text-anchor="end">200</text>
<text transform="translate(558.00,439.91) scale(0.9280,1.0000)" font-size="28.8" text-anchor="end">210</text>
<text transform="translate(558.00,393.02) scale(0.9280,1.0000)" font-size="28.8" text-anchor="end">220</text>
<text transform="translate(558.00,346.13) scale(0.9280,1.0000)" font-size="28.8" text-anchor="end">230</text>
<text transform="translate(558.00,299.24) scale(0.9280,1.0000)" font-size="28.8" text-anchor="end">240</text>
<line x1="616.80" y1="947.50" x2="616.80" y2="961.20" stroke="#000" stroke-width="2.6" stroke-linecap="round"/>
<line x1="688.60" y1="947.50" x2="688.60" y2="961.20" stroke="#000" stroke-width="2.6" stroke-linecap="round"/>
<line x1="760.50" y1="947.50" x2="760.50" y2="961.20" stroke="#000" stroke-width="2.6" stroke-linecap="round"/>
<line x1="832.80" y1="947.50" x2="832.80" y2="961.20" stroke="#000" stroke-width="2.6" stroke-linecap="round"/>
<rect x="589.90" y="917.40" width="143.40" height="28.80" fill="#000"/>
<rect x="732.80" y="918.40" width="139.20" height="26.80" fill="#fff" stroke="#000" stroke-width="2.2"/>
<line x1="871.60" y1="917.30" x2="871.60" y2="946.30" stroke="#000" stroke-width="3.2"/>
<g clip-path="url(#cl1)">
<text transform="translate(622.20,984.70) rotate(-90)" font-size="20.8" font-weight="bold" text-anchor="end">dark hour 48-54 min</text>
<text transform="translate(694.00,984.70) rotate(-90)" font-size="20.8" font-weight="bold" text-anchor="end">dark hour 54-60 min</text>
<text transform="translate(765.90,984.70) rotate(-90)" font-size="20.8" font-weight="bold" text-anchor="end">light hour 0-6 min</text>
<text transform="translate(838.20,984.70) rotate(-90)" font-size="20.8" font-weight="bold" text-anchor="end">light hour 6-12 min</text>
</g>
<text transform="translate(508.00,572.90) rotate(-90)" font-size="27" font-weight="bold" text-anchor="middle" textLength="305.7" lengthAdjust="spacingAndGlyphs">slow wave sleep time (s)</text>
<circle cx="616.80" cy="675.80" r="12.60" fill="#fff" stroke="#7f7f7f" stroke-width="1.9"/>
<circle cx="688.60" cy="729.50" r="12.60" fill="#fff" stroke="#7f7f7f" stroke-width="1.9"/>
<circle cx="760.50" cy="815.60" r="12.60" fill="#fff" stroke="#7f7f7f" stroke-width="1.9"/>
<circle cx="832.80" cy="600.20" r="12.60" fill="#fff" stroke="#7f7f7f" stroke-width="1.9"/>
<circle cx="616.80" cy="674.20" r="13.50"/>
<circle cx="688.60" cy="679.40" r="13.50"/>
<circle cx="760.50" cy="688.20" r="13.50"/>
<circle cx="832.80" cy="463.50" r="13.50"/>
<line x1="616.80" y1="621.20" x2="616.80" y2="662.50" stroke="#7f7f7f" stroke-width="2.7"/>
<line x1="616.80" y1="689.10" x2="616.80" y2="734.00" stroke="#7f7f7f" stroke-width="2.7" stroke-linecap="round"/>
<line x1="610.55" y1="621.20" x2="623.05" y2="621.20" stroke="#7f7f7f" stroke-width="2.7" stroke-linecap="round"/>
<line x1="610.55" y1="734.00" x2="623.05" y2="734.00" stroke="#7f7f7f" stroke-width="2.7" stroke-linecap="round"/>
<line x1="688.60" y1="697.70" x2="688.60" y2="716.20" stroke="#7f7f7f" stroke-width="2.7"/>
<line x1="688.60" y1="742.80" x2="688.60" y2="761.30" stroke="#7f7f7f" stroke-width="2.7" stroke-linecap="round"/>
<line x1="682.35" y1="697.70" x2="694.85" y2="697.70" stroke="#7f7f7f" stroke-width="2.7" stroke-linecap="round"/>
<line x1="682.35" y1="761.30" x2="694.85" y2="761.30" stroke="#7f7f7f" stroke-width="2.7" stroke-linecap="round"/>
<line x1="760.50" y1="783.60" x2="760.50" y2="802.30" stroke="#7f7f7f" stroke-width="2.7"/>
<line x1="760.50" y1="828.90" x2="760.50" y2="848.40" stroke="#7f7f7f" stroke-width="2.7" stroke-linecap="round"/>
<line x1="754.25" y1="783.60" x2="766.75" y2="783.60" stroke="#7f7f7f" stroke-width="2.7" stroke-linecap="round"/>
<line x1="754.25" y1="848.40" x2="766.75" y2="848.40" stroke="#7f7f7f" stroke-width="2.7" stroke-linecap="round"/>
<line x1="832.80" y1="534.80" x2="832.80" y2="586.90" stroke="#7f7f7f" stroke-width="2.7"/>
<line x1="832.80" y1="613.50" x2="832.80" y2="666.30" stroke="#7f7f7f" stroke-width="2.7" stroke-linecap="round"/>
<line x1="826.55" y1="534.80" x2="839.05" y2="534.80" stroke="#7f7f7f" stroke-width="2.7" stroke-linecap="round"/>
<line x1="826.55" y1="666.30" x2="839.05" y2="666.30" stroke="#7f7f7f" stroke-width="2.7" stroke-linecap="round"/>
<line x1="616.80" y1="597.10" x2="616.80" y2="660.90" stroke="#000" stroke-width="2.7"/>
<line x1="616.80" y1="687.50" x2="616.80" y2="751.80" stroke="#000" stroke-width="2.7" stroke-linecap="round"/>
<line x1="610.55" y1="597.10" x2="623.05" y2="597.10" stroke="#000" stroke-width="2.7" stroke-linecap="round"/>
<line x1="610.55" y1="751.80" x2="623.05" y2="751.80" stroke="#000" stroke-width="2.7" stroke-linecap="round"/>
<line x1="688.60" y1="634.30" x2="688.60" y2="666.10" stroke="#000" stroke-width="2.7"/>
<line x1="688.60" y1="692.70" x2="688.60" y2="724.70" stroke="#000" stroke-width="2.7" stroke-linecap="round"/>
<line x1="682.35" y1="634.30" x2="694.85" y2="634.30" stroke="#000" stroke-width="2.7" stroke-linecap="round"/>
<line x1="682.35" y1="724.70" x2="694.85" y2="724.70" stroke="#000" stroke-width="2.7" stroke-linecap="round"/>
<line x1="760.50" y1="645.30" x2="760.50" y2="674.90" stroke="#000" stroke-width="2.7"/>
<line x1="760.50" y1="701.50" x2="760.50" y2="731.50" stroke="#000" stroke-width="2.7" stroke-linecap="round"/>
<line x1="754.25" y1="645.30" x2="766.75" y2="645.30" stroke="#000" stroke-width="2.7" stroke-linecap="round"/>
<line x1="754.25" y1="731.50" x2="766.75" y2="731.50" stroke="#000" stroke-width="2.7" stroke-linecap="round"/>
<line x1="832.80" y1="381.00" x2="832.80" y2="450.20" stroke="#000" stroke-width="2.7"/>
<line x1="832.80" y1="476.80" x2="832.80" y2="545.90" stroke="#000" stroke-width="2.7" stroke-linecap="round"/>
<line x1="826.55" y1="381.00" x2="839.05" y2="381.00" stroke="#000" stroke-width="2.7" stroke-linecap="round"/>
<line x1="826.55" y1="545.90" x2="839.05" y2="545.90" stroke="#000" stroke-width="2.7" stroke-linecap="round"/>
<line x1="996.20" y1="291.80" x2="996.20" y2="950.70" stroke="#000" stroke-width="2.6"/>
<line x1="996.20" y1="949.40" x2="1285.50" y2="949.40" stroke="#000" stroke-width="2.6"/>
<line x1="982.90" y1="908.20" x2="996.20" y2="908.20" stroke="#000" stroke-width="2.6" stroke-linecap="round"/>
<line x1="982.90" y1="856.94" x2="996.20" y2="856.94" stroke="#000" stroke-width="2.6" stroke-linecap="round"/>
<line x1="982.90" y1="805.68" x2="996.20" y2="805.68" stroke="#000" stroke-width="2.6" stroke-linecap="round"/>
<line x1="982.90" y1="754.42" x2="996.20" y2="754.42" stroke="#000" stroke-width="2.6" stroke-linecap="round"/>
<line x1="982.90" y1="703.16" x2="996.20" y2="703.16" stroke="#000" stroke-width="2.6" stroke-linecap="round"/>
<line x1="982.90" y1="651.90" x2="996.20" y2="651.90" stroke="#000" stroke-width="2.6" stroke-linecap="round"/>
<line x1="982.90" y1="600.64" x2="996.20" y2="600.64" stroke="#000" stroke-width="2.6" stroke-linecap="round"/>
<line x1="982.90" y1="549.38" x2="996.20" y2="549.38" stroke="#000" stroke-width="2.6" stroke-linecap="round"/>
<line x1="982.90" y1="498.12" x2="996.20" y2="498.12" stroke="#000" stroke-width="2.6" stroke-linecap="round"/>
<line x1="982.90" y1="446.86" x2="996.20" y2="446.86" stroke="#000" stroke-width="2.6" stroke-linecap="round"/>
<line x1="982.90" y1="395.60" x2="996.20" y2="395.60" stroke="#000" stroke-width="2.6" stroke-linecap="round"/>
<line x1="982.90" y1="344.34" x2="996.20" y2="344.34" stroke="#000" stroke-width="2.6" stroke-linecap="round"/>
<line x1="982.90" y1="293.08" x2="996.20" y2="293.08" stroke="#000" stroke-width="2.6" stroke-linecap="round"/>
<line x1="989.80" y1="933.83" x2="996.20" y2="933.83" stroke="#000" stroke-width="2.6" stroke-linecap="round"/>
<line x1="989.80" y1="882.57" x2="996.20" y2="882.57" stroke="#000" stroke-width="2.6" stroke-linecap="round"/>
<line x1="989.80" y1="831.31" x2="996.20" y2="831.31" stroke="#000" stroke-width="2.6" stroke-linecap="round"/>
<line x1="989.80" y1="780.05" x2="996.20" y2="780.05" stroke="#000" stroke-width="2.6" stroke-linecap="round"/>
<line x1="989.80" y1="728.79" x2="996.20" y2="728.79" stroke="#000" stroke-width="2.6" stroke-linecap="round"/>
<line x1="989.80" y1="677.53" x2="996.20" y2="677.53" stroke="#000" stroke-width="2.6" stroke-linecap="round"/>
<line x1="989.80" y1="626.27" x2="996.20" y2="626.27" stroke="#000" stroke-width="2.6" stroke-linecap="round"/>
<line x1="989.80" y1="575.01" x2="996.20" y2="575.01" stroke="#000" stroke-width="2.6" stroke-linecap="round"/>
<line x1="989.80" y1="523.75" x2="996.20" y2="523.75" stroke="#000" stroke-width="2.6" stroke-linecap="round"/>
<line x1="989.80" y1="472.49" x2="996.20" y2="472.49" stroke="#000" stroke-width="2.6" stroke-linecap="round"/>
<line x1="989.80" y1="421.23" x2="996.20" y2="421.23" stroke="#000" stroke-width="2.6" stroke-linecap="round"/>
<line x1="989.80" y1="369.97" x2="996.20" y2="369.97" stroke="#000" stroke-width="2.6" stroke-linecap="round"/>
<line x1="989.80" y1="318.71" x2="996.20" y2="318.71" stroke="#000" stroke-width="2.6" stroke-linecap="round"/>
<text transform="translate(973.80,916.50) scale(0.9280,1.0000)" font-size="28.8" text-anchor="end">0</text>
<text transform="translate(973.80,865.24) scale(0.9280,1.0000)" font-size="28.8" text-anchor="end">5</text>
<text transform="translate(973.80,813.98) scale(0.9280,1.0000)" font-size="28.8" text-anchor="end">10</text>
<text transform="translate(973.80,762.72) scale(0.9280,1.0000)" font-size="28.8" text-anchor="end">15</text>
<text transform="translate(973.80,711.46) scale(0.9280,1.0000)" font-size="28.8" text-anchor="end">20</text>
<text transform="translate(973.80,660.20) scale(0.9280,1.0000)" font-size="28.8" text-anchor="end">25</text>
<text transform="translate(973.80,608.94) scale(0.9280,1.0000)" font-size="28.8" text-anchor="end">30</text>
<text transform="translate(973.80,557.68) scale(0.9280,1.0000)" font-size="28.8" text-anchor="end">35</text>
<text transform="translate(973.80,506.42) scale(0.9280,1.0000)" font-size="28.8" text-anchor="end">40</text>
<text transform="translate(973.80,455.16) scale(0.9280,1.0000)" font-size="28.8" text-anchor="end">45</text>
<text transform="translate(973.80,403.90) scale(0.9280,1.0000)" font-size="28.8" text-anchor="end">50</text>
<text transform="translate(973.80,352.64) scale(0.9280,1.0000)" font-size="28.8" text-anchor="end">55</text>
<text transform="translate(973.80,301.38) scale(0.9280,1.0000)" font-size="28.8" text-anchor="end">60</text>
<line x1="1032.70" y1="949.40" x2="1032.70" y2="963.20" stroke="#000" stroke-width="2.6" stroke-linecap="round"/>
<line x1="1104.50" y1="949.40" x2="1104.50" y2="963.20" stroke="#000" stroke-width="2.6" stroke-linecap="round"/>
<line x1="1176.70" y1="949.40" x2="1176.70" y2="963.20" stroke="#000" stroke-width="2.6" stroke-linecap="round"/>
<line x1="1248.90" y1="949.40" x2="1248.90" y2="963.20" stroke="#000" stroke-width="2.6" stroke-linecap="round"/>
<rect x="1014.00" y="919.00" width="143.30" height="29.60" fill="#000"/>
<rect x="1156.80" y="920.00" width="139.80" height="27.60" fill="#fff" stroke="#000" stroke-width="2.2"/>
<line x1="1296.20" y1="918.90" x2="1296.20" y2="948.70" stroke="#000" stroke-width="3.2"/>
<g clip-path="url(#cl1)">
<text transform="translate(1039.00,987.20) rotate(-90)" font-size="20.8" font-weight="bold" text-anchor="end">dark hour 48-54 min</text>
<text transform="translate(1110.80,987.20) rotate(-90)" font-size="20.8" font-weight="bold" text-anchor="end">dark hour 54-60 min</text>
<text transform="translate(1183.00,987.20) rotate(-90)" font-size="20.8" font-weight="bold" text-anchor="end">light hour 0-6 min</text>
<text transform="translate(1255.20,987.20) rotate(-90)" font-size="20.8" font-weight="bold" text-anchor="end">light hour 6-12 min</text>
</g>
<text transform="translate(922.60,549.40) rotate(-90)" font-size="27" font-weight="bold" text-anchor="middle" textLength="233.4" lengthAdjust="spacingAndGlyphs">REM sleep time (s)</text>
<polygon points="1032.70,556.10 1047.90,580.70 1017.50,580.70" fill="#fff" stroke="#7f7f7f" stroke-width="1.9" stroke-linejoin="miter"/>
<polygon points="1104.50,400.30 1119.70,424.90 1089.30,424.90" fill="#fff" stroke="#7f7f7f" stroke-width="1.9" stroke-linejoin="miter"/>
<polygon points="1176.70,767.80 1191.90,792.40 1161.50,792.40" fill="#fff" stroke="#7f7f7f" stroke-width="1.9" stroke-linejoin="miter"/>
<polygon points="1248.90,705.90 1264.10,730.50 1233.70,730.50" fill="#fff" stroke="#7f7f7f" stroke-width="1.9" stroke-linejoin="miter"/>
<polygon points="1032.70,540.10 1049.20,566.75 1016.20,566.75"/>
<polygon points="1104.50,586.50 1121.00,613.15 1088.00,613.15"/>
<polygon points="1176.70,740.40 1193.20,767.05 1160.20,767.05"/>
<polygon points="1248.90,771.30 1265.40,797.95 1232.40,797.95"/>
<line x1="1032.70" y1="484.00" x2="1032.70" y2="555.50" stroke="#7f7f7f" stroke-width="2.2"/>
<line x1="1032.70" y1="589.30" x2="1032.70" y2="662.00" stroke="#7f7f7f" stroke-width="2.2" stroke-linecap="round"/>
<line x1="1026.45" y1="484.00" x2="1038.95" y2="484.00" stroke="#7f7f7f" stroke-width="2.2" stroke-linecap="round"/>
<line x1="1026.45" y1="662.00" x2="1038.95" y2="662.00" stroke="#7f7f7f" stroke-width="2.2" stroke-linecap="round"/>
<line x1="1104.50" y1="304.10" x2="1104.50" y2="399.70" stroke="#7f7f7f" stroke-width="2.2"/>
<line x1="1104.50" y1="433.50" x2="1104.50" y2="529.00" stroke="#7f7f7f" stroke-width="2.2" stroke-linecap="round"/>
<line x1="1098.25" y1="304.10" x2="1110.75" y2="304.10" stroke="#7f7f7f" stroke-width="2.2" stroke-linecap="round"/>
<line x1="1098.25" y1="529.00" x2="1110.75" y2="529.00" stroke="#7f7f7f" stroke-width="2.2" stroke-linecap="round"/>
<line x1="1176.70" y1="724.30" x2="1176.70" y2="767.20" stroke="#7f7f7f" stroke-width="2.2"/>
<line x1="1176.70" y1="801.00" x2="1176.70" y2="844.80" stroke="#7f7f7f" stroke-width="2.2" stroke-linecap="round"/>
<line x1="1170.45" y1="724.30" x2="1182.95" y2="724.30" stroke="#7f7f7f" stroke-width="2.2" stroke-linecap="round"/>
<line x1="1170.45" y1="844.80" x2="1182.95" y2="844.80" stroke="#7f7f7f" stroke-width="2.2" stroke-linecap="round"/>
<line x1="1248.90" y1="658.90" x2="1248.90" y2="705.30" stroke="#7f7f7f" stroke-width="2.2"/>
<line x1="1248.90" y1="739.10" x2="1248.90" y2="784.70" stroke="#7f7f7f" stroke-width="2.2" stroke-linecap="round"/>
<line x1="1242.65" y1="658.90" x2="1255.15" y2="658.90" stroke="#7f7f7f" stroke-width="2.2" stroke-linecap="round"/>
<line x1="1242.65" y1="784.70" x2="1255.15" y2="784.70" stroke="#7f7f7f" stroke-width="2.2" stroke-linecap="round"/>
<line x1="1032.70" y1="457.60" x2="1032.70" y2="540.70" stroke="#000" stroke-width="2.7"/>
<line x1="1032.70" y1="574.50" x2="1032.70" y2="657.40" stroke="#000" stroke-width="2.7" stroke-linecap="round"/>
<line x1="1026.45" y1="457.60" x2="1038.95" y2="457.60" stroke="#000" stroke-width="2.7" stroke-linecap="round"/>
<line x1="1026.45" y1="657.40" x2="1038.95" y2="657.40" stroke="#000" stroke-width="2.7" stroke-linecap="round"/>
<line x1="1104.50" y1="517.00" x2="1104.50" y2="587.10" stroke="#000" stroke-width="2.7"/>
<line x1="1104.50" y1="620.90" x2="1104.50" y2="690.90" stroke="#000" stroke-width="2.7" stroke-linecap="round"/>
<line x1="1098.25" y1="517.00" x2="1110.75" y2="517.00" stroke="#000" stroke-width="2.7" stroke-linecap="round"/>
<line x1="1098.25" y1="690.90" x2="1110.75" y2="690.90" stroke="#000" stroke-width="2.7" stroke-linecap="round"/>
<line x1="1176.70" y1="704.80" x2="1176.70" y2="741.00" stroke="#000" stroke-width="2.7"/>
<line x1="1176.70" y1="774.80" x2="1176.70" y2="811.20" stroke="#000" stroke-width="2.7" stroke-linecap="round"/>
<line x1="1170.45" y1="704.80" x2="1182.95" y2="704.80" stroke="#000" stroke-width="2.7" stroke-linecap="round"/>
<line x1="1170.45" y1="811.20" x2="1182.95" y2="811.20" stroke="#000" stroke-width="2.7" stroke-linecap="round"/>
<line x1="1248.90" y1="744.00" x2="1248.90" y2="771.90" stroke="#000" stroke-width="2.7"/>
<line x1="1248.90" y1="805.70" x2="1248.90" y2="833.10" stroke="#000" stroke-width="2.7" stroke-linecap="round"/>
<line x1="1242.65" y1="744.00" x2="1255.15" y2="744.00" stroke="#000" stroke-width="2.7" stroke-linecap="round"/>
<line x1="1242.65" y1="833.10" x2="1255.15" y2="833.10" stroke="#000" stroke-width="2.7" stroke-linecap="round"/>
<line x1="172.50" y1="1472.80" x2="172.50" y2="2146.60" stroke="#000" stroke-width="2.6"/>
<line x1="157.80" y1="2145.30" x2="467.60" y2="2145.30" stroke="#000" stroke-width="2.6"/>
<line x1="159.20" y1="2145.30" x2="172.50" y2="2145.30" stroke="#000" stroke-width="2.6" stroke-linecap="round"/>
<line x1="159.20" y1="2078.18" x2="172.50" y2="2078.18" stroke="#000" stroke-width="2.6" stroke-linecap="round"/>
<line x1="159.20" y1="2011.06" x2="172.50" y2="2011.06" stroke="#000" stroke-width="2.6" stroke-linecap="round"/>
<line x1="159.20" y1="1943.94" x2="172.50" y2="1943.94" stroke="#000" stroke-width="2.6" stroke-linecap="round"/>
<line x1="159.20" y1="1876.82" x2="172.50" y2="1876.82" stroke="#000" stroke-width="2.6" stroke-linecap="round"/>
<line x1="159.20" y1="1809.70" x2="172.50" y2="1809.70" stroke="#000" stroke-width="2.6" stroke-linecap="round"/>
<line x1="159.20" y1="1742.58" x2="172.50" y2="1742.58" stroke="#000" stroke-width="2.6" stroke-linecap="round"/>
<line x1="159.20" y1="1675.46" x2="172.50" y2="1675.46" stroke="#000" stroke-width="2.6" stroke-linecap="round"/>
<line x1="159.20" y1="1608.34" x2="172.50" y2="1608.34" stroke="#000" stroke-width="2.6" stroke-linecap="round"/>
<line x1="159.20" y1="1541.22" x2="172.50" y2="1541.22" stroke="#000" stroke-width="2.6" stroke-linecap="round"/>
<line x1="159.20" y1="1474.10" x2="172.50" y2="1474.10" stroke="#000" stroke-width="2.6" stroke-linecap="round"/>
<line x1="166.10" y1="2111.74" x2="172.50" y2="2111.74" stroke="#000" stroke-width="2.6" stroke-linecap="round"/>
<line x1="166.10" y1="2044.62" x2="172.50" y2="2044.62" stroke="#000" stroke-width="2.6" stroke-linecap="round"/>
<line x1="166.10" y1="1977.50" x2="172.50" y2="1977.50" stroke="#000" stroke-width="2.6" stroke-linecap="round"/>
<line x1="166.10" y1="1910.38" x2="172.50" y2="1910.38" stroke="#000" stroke-width="2.6" stroke-linecap="round"/>
<line x1="166.10" y1="1843.26" x2="172.50" y2="1843.26" stroke="#000" stroke-width="2.6" stroke-linecap="round"/>
<line x1="166.10" y1="1776.14" x2="172.50" y2="1776.14" stroke="#000" stroke-width="2.6" stroke-linecap="round"/>
<line x1="166.10" y1="1709.02" x2="172.50" y2="1709.02" stroke="#000" stroke-width="2.6" stroke-linecap="round"/>
<line x1="166.10" y1="1641.90" x2="172.50" y2="1641.90" stroke="#000" stroke-width="2.6" stroke-linecap="round"/>
<line x1="166.10" y1="1574.78" x2="172.50" y2="1574.78" stroke="#000" stroke-width="2.6" stroke-linecap="round"/>
<line x1="166.10" y1="1507.66" x2="172.50" y2="1507.66" stroke="#000" stroke-width="2.6" stroke-linecap="round"/>
<text transform="translate(149.00,2153.30) scale(0.8960,1.0000)" font-size="29.3" text-anchor="end">12</text>
<text transform="translate(149.00,2086.18) scale(0.8960,1.0000)" font-size="29.3" text-anchor="end">14</text>
<text transform="translate(149.00,2019.06) scale(0.8960,1.0000)" font-size="29.3" text-anchor="end">16</text>
<text transform="translate(149.00,1951.94) scale(0.8960,1.0000)" font-size="29.3" text-anchor="end">18</text>
<text transform="translate(149.00,1884.82) scale(0.8960,1.0000)" font-size="29.3" text-anchor="end">20</text>
<text transform="translate(149.00,1817.70) scale(0.8960,1.0000)" font-size="29.3" text-anchor="end">22</text>
<text transform="translate(149.00,1750.58) scale(0.8960,1.0000)" font-size="29.3" text-anchor="end">24</text>
<text transform="translate(149.00,1683.46) scale(0.8960,1.0000)" font-size="29.3" text-anchor="end">26</text>
<text transform="translate(149.00,1616.34) scale(0.8960,1.0000)" font-size="29.3" text-anchor="end">28</text>
<text transform="translate(149.00,1549.22) scale(0.8960,1.0000)" font-size="29.3" text-anchor="end">30</text>
<text transform="translate(149.00,1482.10) scale(0.8960,1.0000)" font-size="29.3" text-anchor="end">32</text>
<line x1="209.40" y1="2145.30" x2="209.40" y2="2159.60" stroke="#000" stroke-width="2.6" stroke-linecap="round"/>
<line x1="283.00" y1="2145.30" x2="283.00" y2="2159.60" stroke="#000" stroke-width="2.6" stroke-linecap="round"/>
<line x1="356.50" y1="2145.30" x2="356.50" y2="2159.60" stroke="#000" stroke-width="2.6" stroke-linecap="round"/>
<line x1="430.10" y1="2145.30" x2="430.10" y2="2159.60" stroke="#000" stroke-width="2.6" stroke-linecap="round"/>
<rect x="176.80" y="2115.30" width="143.60" height="28.50" fill="#000"/>
<rect x="319.90" y="2116.30" width="139.90" height="26.50" fill="#fff" stroke="#000" stroke-width="2.2"/>
<line x1="459.40" y1="2115.20" x2="459.40" y2="2143.90" stroke="#000" stroke-width="3.2"/>
<text transform="translate(215.60,2183.50) rotate(-90)" font-size="21.2" font-weight="bold" text-anchor="end">dark hour 48-54 min</text>
<text transform="translate(289.20,2183.50) rotate(-90)" font-size="21.2" font-weight="bold" text-anchor="end">dark hour 54-60 min</text>
<text transform="translate(362.70,2183.50) rotate(-90)" font-size="21.2" font-weight="bold" text-anchor="end">light hour 0-6 min</text>
<text transform="translate(436.30,2183.50) rotate(-90)" font-size="21.2" font-weight="bold" text-anchor="end">light hour 6-12 min</text>
<text transform="translate(112.90,1783.90) rotate(-90)" font-size="27" font-weight="bold" text-anchor="middle" textLength="389.8" lengthAdjust="spacingAndGlyphs">number of wakefulness epochs</text>
<rect x="198.40" y="1759.20" width="22.00" height="21.80" fill="#fff" stroke="#7f7f7f" stroke-width="1.9"/>
<rect x="272.00" y="1763.50" width="22.00" height="21.80" fill="#fff" stroke="#7f7f7f" stroke-width="1.9"/>
<rect x="345.50" y="1566.20" width="22.00" height="21.80" fill="#fff" stroke="#7f7f7f" stroke-width="1.9"/>
<rect x="419.10" y="1748.50" width="22.00" height="21.80" fill="#fff" stroke="#7f7f7f" stroke-width="1.9"/>
<rect x="197.30" y="1868.00" width="24.20" height="24.00" fill="#000"/>
<rect x="270.90" y="1871.50" width="24.20" height="24.00" fill="#000"/>
<rect x="344.40" y="1834.80" width="24.20" height="24.00" fill="#000"/>
<rect x="418.00" y="2006.20" width="24.20" height="24.00" fill="#000"/>
<line x1="209.40" y1="1718.50" x2="209.40" y2="1758.10" stroke="#7f7f7f" stroke-width="2.7"/>
<line x1="209.40" y1="1782.10" x2="209.40" y2="1821.00" stroke="#7f7f7f" stroke-width="2.7" stroke-linecap="round"/>
<line x1="203.15" y1="1718.50" x2="215.65" y2="1718.50" stroke="#7f7f7f" stroke-width="2.7" stroke-linecap="round"/>
<line x1="203.15" y1="1821.00" x2="215.65" y2="1821.00" stroke="#7f7f7f" stroke-width="2.7" stroke-linecap="round"/>
<line x1="283.00" y1="1717.20" x2="283.00" y2="1762.40" stroke="#7f7f7f" stroke-width="2.7"/>
<line x1="283.00" y1="1786.40" x2="283.00" y2="1831.80" stroke="#7f7f7f" stroke-width="2.7" stroke-linecap="round"/>
<line x1="276.75" y1="1717.20" x2="289.25" y2="1717.20" stroke="#7f7f7f" stroke-width="2.7" stroke-linecap="round"/>
<line x1="276.75" y1="1831.80" x2="289.25" y2="1831.80" stroke="#7f7f7f" stroke-width="2.7" stroke-linecap="round"/>
<line x1="356.50" y1="1533.00" x2="356.50" y2="1565.10" stroke="#7f7f7f" stroke-width="2.7"/>
<line x1="356.50" y1="1589.10" x2="356.50" y2="1621.20" stroke="#7f7f7f" stroke-width="2.7" stroke-linecap="round"/>
<line x1="350.25" y1="1533.00" x2="362.75" y2="1533.00" stroke="#7f7f7f" stroke-width="2.7" stroke-linecap="round"/>
<line x1="350.25" y1="1621.20" x2="362.75" y2="1621.20" stroke="#7f7f7f" stroke-width="2.7" stroke-linecap="round"/>
<line x1="430.10" y1="1694.70" x2="430.10" y2="1747.40" stroke="#7f7f7f" stroke-width="2.7"/>
<line x1="430.10" y1="1771.40" x2="430.10" y2="1824.30" stroke="#7f7f7f" stroke-width="2.7" stroke-linecap="round"/>
<line x1="423.85" y1="1694.70" x2="436.35" y2="1694.70" stroke="#7f7f7f" stroke-width="2.7" stroke-linecap="round"/>
<line x1="423.85" y1="1824.30" x2="436.35" y2="1824.30" stroke="#7f7f7f" stroke-width="2.7" stroke-linecap="round"/>
<line x1="209.40" y1="1821.30" x2="209.40" y2="1868.00" stroke="#000" stroke-width="2.7"/>
<line x1="209.40" y1="1892.00" x2="209.40" y2="1939.50" stroke="#000" stroke-width="2.7" stroke-linecap="round"/>
<line x1="203.15" y1="1821.30" x2="215.65" y2="1821.30" stroke="#000" stroke-width="2.7" stroke-linecap="round"/>
<line x1="203.15" y1="1939.50" x2="215.65" y2="1939.50" stroke="#000" stroke-width="2.7" stroke-linecap="round"/>
<line x1="283.00" y1="1826.80" x2="283.00" y2="1871.50" stroke="#000" stroke-width="2.7"/>
<line x1="283.00" y1="1895.50" x2="283.00" y2="1940.60" stroke="#000" stroke-width="2.7" stroke-linecap="round"/>
<line x1="276.75" y1="1826.80" x2="289.25" y2="1826.80" stroke="#000" stroke-width="2.7" stroke-linecap="round"/>
<line x1="276.75" y1="1940.60" x2="289.25" y2="1940.60" stroke="#000" stroke-width="2.7" stroke-linecap="round"/>
<line x1="356.50" y1="1801.30" x2="356.50" y2="1834.80" stroke="#000" stroke-width="2.7"/>
<line x1="356.50" y1="1858.80" x2="356.50" y2="1892.10" stroke="#000" stroke-width="2.7" stroke-linecap="round"/>
<line x1="350.25" y1="1801.30" x2="362.75" y2="1801.30" stroke="#000" stroke-width="2.7" stroke-linecap="round"/>
<line x1="350.25" y1="1892.10" x2="362.75" y2="1892.10" stroke="#000" stroke-width="2.7" stroke-linecap="round"/>
<line x1="430.10" y1="1966.80" x2="430.10" y2="2006.20" stroke="#000" stroke-width="2.7"/>
<line x1="430.10" y1="2030.20" x2="430.10" y2="2070.30" stroke="#000" stroke-width="2.7" stroke-linecap="round"/>
<line x1="423.85" y1="1966.80" x2="436.35" y2="1966.80" stroke="#000" stroke-width="2.7" stroke-linecap="round"/>
<line x1="423.85" y1="2070.30" x2="436.35" y2="2070.30" stroke="#000" stroke-width="2.7" stroke-linecap="round"/>
<line x1="570.90" y1="1480.30" x2="570.90" y2="2153.80" stroke="#000" stroke-width="2.6"/>
<line x1="556.00" y1="2152.50" x2="865.90" y2="2152.50" stroke="#000" stroke-width="2.6"/>
<line x1="557.60" y1="2152.50" x2="570.90" y2="2152.50" stroke="#000" stroke-width="2.6" stroke-linecap="round"/>
<line x1="557.60" y1="2085.41" x2="570.90" y2="2085.41" stroke="#000" stroke-width="2.6" stroke-linecap="round"/>
<line x1="557.60" y1="2018.32" x2="570.90" y2="2018.32" stroke="#000" stroke-width="2.6" stroke-linecap="round"/>
<line x1="557.60" y1="1951.23" x2="570.90" y2="1951.23" stroke="#000" stroke-width="2.6" stroke-linecap="round"/>
<line x1="557.60" y1="1884.14" x2="570.90" y2="1884.14" stroke="#000" stroke-width="2.6" stroke-linecap="round"/>
<line x1="557.60" y1="1817.05" x2="570.90" y2="1817.05" stroke="#000" stroke-width="2.6" stroke-linecap="round"/>
<line x1="557.60" y1="1749.96" x2="570.90" y2="1749.96" stroke="#000" stroke-width="2.6" stroke-linecap="round"/>
<line x1="557.60" y1="1682.87" x2="570.90" y2="1682.87" stroke="#000" stroke-width="2.6" stroke-linecap="round"/>
<line x1="557.60" y1="1615.78" x2="570.90" y2="1615.78" stroke="#000" stroke-width="2.6" stroke-linecap="round"/>
<line x1="557.60" y1="1548.69" x2="570.90" y2="1548.69" stroke="#000" stroke-width="2.6" stroke-linecap="round"/>
<line x1="557.60" y1="1481.60" x2="570.90" y2="1481.60" stroke="#000" stroke-width="2.6" stroke-linecap="round"/>
<line x1="564.50" y1="2118.95" x2="570.90" y2="2118.95" stroke="#000" stroke-width="2.6" stroke-linecap="round"/>
<line x1="564.50" y1="2051.86" x2="570.90" y2="2051.86" stroke="#000" stroke-width="2.6" stroke-linecap="round"/>
<line x1="564.50" y1="1984.78" x2="570.90" y2="1984.78" stroke="#000" stroke-width="2.6" stroke-linecap="round"/>
<line x1="564.50" y1="1917.68" x2="570.90" y2="1917.68" stroke="#000" stroke-width="2.6" stroke-linecap="round"/>
<line x1="564.50" y1="1850.60" x2="570.90" y2="1850.60" stroke="#000" stroke-width="2.6" stroke-linecap="round"/>
<line x1="564.50" y1="1783.51" x2="570.90" y2="1783.51" stroke="#000" stroke-width="2.6" stroke-linecap="round"/>
<line x1="564.50" y1="1716.41" x2="570.90" y2="1716.41" stroke="#000" stroke-width="2.6" stroke-linecap="round"/>
<line x1="564.50" y1="1649.33" x2="570.90" y2="1649.33" stroke="#000" stroke-width="2.6" stroke-linecap="round"/>
<line x1="564.50" y1="1582.24" x2="570.90" y2="1582.24" stroke="#000" stroke-width="2.6" stroke-linecap="round"/>
<line x1="564.50" y1="1515.14" x2="570.90" y2="1515.14" stroke="#000" stroke-width="2.6" stroke-linecap="round"/>
<text transform="translate(547.40,2160.50) scale(0.8960,1.0000)" font-size="29.3" text-anchor="end">12</text>
<text transform="translate(547.40,2093.41) scale(0.8960,1.0000)" font-size="29.3" text-anchor="end">14</text>
<text transform="translate(547.40,2026.32) scale(0.8960,1.0000)" font-size="29.3" text-anchor="end">16</text>
<text transform="translate(547.40,1959.23) scale(0.8960,1.0000)" font-size="29.3" text-anchor="end">18</text>
<text transform="translate(547.40,1892.14) scale(0.8960,1.0000)" font-size="29.3" text-anchor="end">20</text>
<text transform="translate(547.40,1825.05) scale(0.8960,1.0000)" font-size="29.3" text-anchor="end">22</text>
<text transform="translate(547.40,1757.96) scale(0.8960,1.0000)" font-size="29.3" text-anchor="end">24</text>
<text transform="translate(547.40,1690.87) scale(0.8960,1.0000)" font-size="29.3" text-anchor="end">26</text>
<text transform="translate(547.40,1623.78) scale(0.8960,1.0000)" font-size="29.3" text-anchor="end">28</text>
<text transform="translate(547.40,1556.69) scale(0.8960,1.0000)" font-size="29.3" text-anchor="end">30</text>
<text transform="translate(547.40,1489.60) scale(0.8960,1.0000)" font-size="29.3" text-anchor="end">32</text>
<line x1="607.60" y1="2152.50" x2="607.60" y2="2166.40" stroke="#000" stroke-width="2.6" stroke-linecap="round"/>
<line x1="681.20" y1="2152.50" x2="681.20" y2="2166.40" stroke="#000" stroke-width="2.6" stroke-linecap="round"/>
<line x1="754.90" y1="2152.50" x2="754.90" y2="2166.40" stroke="#000" stroke-width="2.6" stroke-linecap="round"/>
<line x1="828.40" y1="2152.50" x2="828.40" y2="2166.40" stroke="#000" stroke-width="2.6" stroke-linecap="round"/>
<rect x="574.80" y="2122.20" width="143.00" height="28.60" fill="#000"/>
<rect x="717.30" y="2123.20" width="140.30" height="26.60" fill="#fff" stroke="#000" stroke-width="2.2"/>
<line x1="857.20" y1="2122.10" x2="857.20" y2="2150.90" stroke="#000" stroke-width="3.2"/>
<g clip-path="url(#cl2)">
<text transform="translate(614.20,2190.40) rotate(-90)" font-size="21.2" font-weight="bold" text-anchor="end">dark hour 48-54 min</text>
<text transform="translate(687.80,2190.40) rotate(-90)" font-size="21.2" font-weight="bold" text-anchor="end">dark hour 54-60 min</text>
<text transform="translate(761.50,2190.40) rotate(-90)" font-size="21.2" font-weight="bold" text-anchor="end">light hour 0-6 min</text>
<text transform="translate(835.00,2190.40) rotate(-90)" font-size="21.2" font-weight="bold" text-anchor="end">light hour 6-12 min</text>
</g>
<text transform="translate(511.90,1770.40) rotate(-90)" font-size="27" font-weight="bold" text-anchor="middle" textLength="448.5" lengthAdjust="spacingAndGlyphs">number of slow wave sleep epochs</text>
<circle cx="607.60" cy="1813.30" r="13.10" fill="#fff" stroke="#7f7f7f" stroke-width="1.9"/>
<circle cx="681.20" cy="1850.50" r="13.10" fill="#fff" stroke="#7f7f7f" stroke-width="1.9"/>
<circle cx="754.90" cy="1888.90" r="13.10" fill="#fff" stroke="#7f7f7f" stroke-width="1.9"/>
<circle cx="828.40" cy="1806.00" r="13.10" fill="#fff" stroke="#7f7f7f" stroke-width="1.9"/>
<circle cx="607.60" cy="1934.40" r="14.04"/>
<circle cx="681.20" cy="1931.30" r="14.04"/>
<circle cx="754.90" cy="1935.10" r="14.04"/>
<circle cx="828.40" cy="1885.90" r="14.04"/>
<line x1="607.60" y1="1768.70" x2="607.60" y2="1799.47" stroke="#7f7f7f" stroke-width="2.7"/>
<line x1="607.60" y1="1827.13" x2="607.60" y2="1858.90" stroke="#7f7f7f" stroke-width="2.7" stroke-linecap="round"/>
<line x1="601.35" y1="1768.70" x2="613.85" y2="1768.70" stroke="#7f7f7f" stroke-width="2.7" stroke-linecap="round"/>
<line x1="601.35" y1="1858.90" x2="613.85" y2="1858.90" stroke="#7f7f7f" stroke-width="2.7" stroke-linecap="round"/>
<line x1="681.20" y1="1802.60" x2="681.20" y2="1836.67" stroke="#7f7f7f" stroke-width="2.7"/>
<line x1="681.20" y1="1864.33" x2="681.20" y2="1899.00" stroke="#7f7f7f" stroke-width="2.7" stroke-linecap="round"/>
<line x1="674.95" y1="1802.60" x2="687.45" y2="1802.60" stroke="#7f7f7f" stroke-width="2.7" stroke-linecap="round"/>
<line x1="674.95" y1="1899.00" x2="687.45" y2="1899.00" stroke="#7f7f7f" stroke-width="2.7" stroke-linecap="round"/>
<line x1="754.90" y1="1842.60" x2="754.90" y2="1875.07" stroke="#7f7f7f" stroke-width="2.7"/>
<line x1="754.90" y1="1902.73" x2="754.90" y2="1936.70" stroke="#7f7f7f" stroke-width="2.7" stroke-linecap="round"/>
<line x1="748.65" y1="1842.60" x2="761.15" y2="1842.60" stroke="#7f7f7f" stroke-width="2.7" stroke-linecap="round"/>
<line x1="748.65" y1="1936.70" x2="761.15" y2="1936.70" stroke="#7f7f7f" stroke-width="2.7" stroke-linecap="round"/>
<line x1="828.40" y1="1760.20" x2="828.40" y2="1792.17" stroke="#7f7f7f" stroke-width="2.7"/>
<line x1="828.40" y1="1819.83" x2="828.40" y2="1852.60" stroke="#7f7f7f" stroke-width="2.7" stroke-linecap="round"/>
<line x1="822.15" y1="1760.20" x2="834.65" y2="1760.20" stroke="#7f7f7f" stroke-width="2.7" stroke-linecap="round"/>
<line x1="822.15" y1="1852.60" x2="834.65" y2="1852.60" stroke="#7f7f7f" stroke-width="2.7" stroke-linecap="round"/>
<line x1="607.60" y1="1874.40" x2="607.60" y2="1920.57" stroke="#000" stroke-width="2.7"/>
<line x1="607.60" y1="1948.23" x2="607.60" y2="1994.90" stroke="#000" stroke-width="2.7" stroke-linecap="round"/>
<line x1="601.35" y1="1874.40" x2="613.85" y2="1874.40" stroke="#000" stroke-width="2.7" stroke-linecap="round"/>
<line x1="601.35" y1="1994.90" x2="613.85" y2="1994.90" stroke="#000" stroke-width="2.7" stroke-linecap="round"/>
<line x1="681.20" y1="1888.20" x2="681.20" y2="1917.47" stroke="#000" stroke-width="2.7"/>
<line x1="681.20" y1="1945.13" x2="681.20" y2="1973.70" stroke="#000" stroke-width="2.7" stroke-linecap="round"/>
<line x1="674.95" y1="1888.20" x2="687.45" y2="1888.20" stroke="#000" stroke-width="2.7" stroke-linecap="round"/>
<line x1="674.95" y1="1973.70" x2="687.45" y2="1973.70" stroke="#000" stroke-width="2.7" stroke-linecap="round"/>
<line x1="754.90" y1="1886.20" x2="754.90" y2="1921.27" stroke="#000" stroke-width="2.7"/>
<line x1="754.90" y1="1948.93" x2="754.90" y2="1984.70" stroke="#000" stroke-width="2.7" stroke-linecap="round"/>
<line x1="748.65" y1="1886.20" x2="761.15" y2="1886.20" stroke="#000" stroke-width="2.7" stroke-linecap="round"/>
<line x1="748.65" y1="1984.70" x2="761.15" y2="1984.70" stroke="#000" stroke-width="2.7" stroke-linecap="round"/>
<line x1="828.40" y1="1826.90" x2="828.40" y2="1872.07" stroke="#000" stroke-width="2.7"/>
<line x1="828.40" y1="1899.73" x2="828.40" y2="1944.80" stroke="#000" stroke-width="2.7" stroke-linecap="round"/>
<line x1="822.15" y1="1826.90" x2="834.65" y2="1826.90" stroke="#000" stroke-width="2.7" stroke-linecap="round"/>
<line x1="822.15" y1="1944.80" x2="834.65" y2="1944.80" stroke="#000" stroke-width="2.7" stroke-linecap="round"/>
<line x1="1011.50" y1="1479.90" x2="1011.50" y2="2153.20" stroke="#000" stroke-width="2.6"/>
<line x1="996.70" y1="2151.90" x2="1302.60" y2="2151.90" stroke="#000" stroke-width="2.6"/>
<line x1="998.20" y1="2151.60" x2="1011.50" y2="2151.60" stroke="#000" stroke-width="2.6" stroke-linecap="round"/>
<line x1="998.20" y1="2067.80" x2="1011.50" y2="2067.80" stroke="#000" stroke-width="2.6" stroke-linecap="round"/>
<line x1="998.20" y1="1984.00" x2="1011.50" y2="1984.00" stroke="#000" stroke-width="2.6" stroke-linecap="round"/>
<line x1="998.20" y1="1900.20" x2="1011.50" y2="1900.20" stroke="#000" stroke-width="2.6" stroke-linecap="round"/>
<line x1="998.20" y1="1816.40" x2="1011.50" y2="1816.40" stroke="#000" stroke-width="2.6" stroke-linecap="round"/>
<line x1="998.20" y1="1732.60" x2="1011.50" y2="1732.60" stroke="#000" stroke-width="2.6" stroke-linecap="round"/>
<line x1="998.20" y1="1648.80" x2="1011.50" y2="1648.80" stroke="#000" stroke-width="2.6" stroke-linecap="round"/>
<line x1="998.20" y1="1565.00" x2="1011.50" y2="1565.00" stroke="#000" stroke-width="2.6" stroke-linecap="round"/>
<line x1="998.20" y1="1481.20" x2="1011.50" y2="1481.20" stroke="#000" stroke-width="2.6" stroke-linecap="round"/>
<line x1="1005.10" y1="2109.70" x2="1011.50" y2="2109.70" stroke="#000" stroke-width="2.6" stroke-linecap="round"/>
<line x1="1005.10" y1="2025.90" x2="1011.50" y2="2025.90" stroke="#000" stroke-width="2.6" stroke-linecap="round"/>
<line x1="1005.10" y1="1942.10" x2="1011.50" y2="1942.10" stroke="#000" stroke-width="2.6" stroke-linecap="round"/>
<line x1="1005.10" y1="1858.30" x2="1011.50" y2="1858.30" stroke="#000" stroke-width="2.6" stroke-linecap="round"/>
<line x1="1005.10" y1="1774.50" x2="1011.50" y2="1774.50" stroke="#000" stroke-width="2.6" stroke-linecap="round"/>
<line x1="1005.10" y1="1690.70" x2="1011.50" y2="1690.70" stroke="#000" stroke-width="2.6" stroke-linecap="round"/>
<line x1="1005.10" y1="1606.90" x2="1011.50" y2="1606.90" stroke="#000" stroke-width="2.6" stroke-linecap="round"/>
<line x1="1005.10" y1="1523.10" x2="1011.50" y2="1523.10" stroke="#000" stroke-width="2.6" stroke-linecap="round"/>
<text transform="translate(988.40,2159.60) scale(0.8960,1.0000)" font-size="29.3" text-anchor="end">0,0</text>
<text transform="translate(988.40,2075.80) scale(0.8960,1.0000)" font-size="29.3" text-anchor="end">0,1</text>
<text transform="translate(988.40,1992.00) scale(0.8960,1.0000)" font-size="29.3" text-anchor="end">0,2</text>
<text transform="translate(988.40,1908.20) scale(0.8960,1.0000)" font-size="29.3" text-anchor="end">0,3</text>
<text transform="translate(988.40,1824.40) scale(0.8960,1.0000)" font-size="29.3" text-anchor="end">0,4</text>
<text transform="translate(988.40,1740.60) scale(0.8960,1.0000)" font-size="29.3" text-anchor="end">0,5</text>
<text transform="translate(988.40,1656.80) scale(0.8960,1.0000)" font-size="29.3" text-anchor="end">0,6</text>
<text transform="translate(988.40,1573.00) scale(0.8960,1.0000)" font-size="29.3" text-anchor="end">0,7</text>
<text transform="translate(988.40,1489.20) scale(0.8960,1.0000)" font-size="29.3" text-anchor="end">0,8</text>
<line x1="1048.50" y1="2151.90" x2="1048.50" y2="2166.00" stroke="#000" stroke-width="2.6" stroke-linecap="round"/>
<line x1="1122.10" y1="2151.90" x2="1122.10" y2="2166.00" stroke="#000" stroke-width="2.6" stroke-linecap="round"/>
<line x1="1195.90" y1="2151.90" x2="1195.90" y2="2166.00" stroke="#000" stroke-width="2.6" stroke-linecap="round"/>
<line x1="1269.50" y1="2151.90" x2="1269.50" y2="2166.00" stroke="#000" stroke-width="2.6" stroke-linecap="round"/>
<rect x="1014.00" y="2121.30" width="143.40" height="29.00" fill="#000"/>
<rect x="1156.90" y="2122.30" width="139.80" height="27.00" fill="#fff" stroke="#000" stroke-width="2.2"/>
<line x1="1296.30" y1="2121.20" x2="1296.30" y2="2150.40" stroke="#000" stroke-width="3.2"/>
<g clip-path="url(#cl2)">
<text transform="translate(1054.60,2189.40) rotate(-90)" font-size="21.2" font-weight="bold" text-anchor="end">dark hour 48-54 min</text>
<text transform="translate(1128.20,2189.40) rotate(-90)" font-size="21.2" font-weight="bold" text-anchor="end">dark hour 54-60 min</text>
<text transform="translate(1202.00,2189.40) rotate(-90)" font-size="21.2" font-weight="bold" text-anchor="end">light hour 0-6 min</text>
<text transform="translate(1275.60,2189.40) rotate(-90)" font-size="21.2" font-weight="bold" text-anchor="end">light hour 6-12 min</text>
</g>
<text transform="translate(946.40,1761.80) rotate(-90)" font-size="27" font-weight="bold" text-anchor="middle" textLength="380.5" lengthAdjust="spacingAndGlyphs">number of REM sleep epochs</text>
<polygon points="1048.50,1694.42 1064.23,1719.88 1032.77,1719.88" fill="#fff" stroke="#7f7f7f" stroke-width="1.9" stroke-linejoin="miter"/>
<polygon points="1122.10,1715.52 1137.83,1740.98 1106.37,1740.98" fill="#fff" stroke="#7f7f7f" stroke-width="1.9" stroke-linejoin="miter"/>
<polygon points="1195.90,1904.22 1211.63,1929.68 1180.17,1929.68" fill="#fff" stroke="#7f7f7f" stroke-width="1.9" stroke-linejoin="miter"/>
<polygon points="1269.50,1820.02 1285.23,1845.48 1253.77,1845.48" fill="#fff" stroke="#7f7f7f" stroke-width="1.9" stroke-linejoin="miter"/>
<polygon points="1048.50,1798.58 1065.58,1826.16 1031.42,1826.16"/>
<polygon points="1122.10,1777.68 1139.18,1805.26 1105.02,1805.26"/>
<polygon points="1195.90,1756.28 1212.98,1783.86 1178.82,1783.86"/>
<polygon points="1269.50,1798.38 1286.58,1825.96 1252.42,1825.96"/>
<line x1="1048.50" y1="1621.40" x2="1048.50" y2="1694.40" stroke="#7f7f7f" stroke-width="2.5"/>
<line x1="1048.50" y1="1728.20" x2="1048.50" y2="1801.40" stroke="#7f7f7f" stroke-width="2.5" stroke-linecap="round"/>
<line x1="1042.25" y1="1621.40" x2="1054.75" y2="1621.40" stroke="#7f7f7f" stroke-width="2.5" stroke-linecap="round"/>
<line x1="1042.25" y1="1801.40" x2="1054.75" y2="1801.40" stroke="#7f7f7f" stroke-width="2.5" stroke-linecap="round"/>
<line x1="1122.10" y1="1652.80" x2="1122.10" y2="1715.50" stroke="#7f7f7f" stroke-width="2.5"/>
<line x1="1122.10" y1="1749.30" x2="1122.10" y2="1811.90" stroke="#7f7f7f" stroke-width="2.5" stroke-linecap="round"/>
<line x1="1115.85" y1="1652.80" x2="1128.35" y2="1652.80" stroke="#7f7f7f" stroke-width="2.5" stroke-linecap="round"/>
<line x1="1115.85" y1="1811.90" x2="1128.35" y2="1811.90" stroke="#7f7f7f" stroke-width="2.5" stroke-linecap="round"/>
<line x1="1195.90" y1="1831.20" x2="1195.90" y2="1904.20" stroke="#7f7f7f" stroke-width="2.5"/>
<line x1="1195.90" y1="1938.00" x2="1195.90" y2="2011.50" stroke="#7f7f7f" stroke-width="2.5" stroke-linecap="round"/>
<line x1="1189.65" y1="1831.20" x2="1202.15" y2="1831.20" stroke="#7f7f7f" stroke-width="2.5" stroke-linecap="round"/>
<line x1="1189.65" y1="2011.50" x2="1202.15" y2="2011.50" stroke="#7f7f7f" stroke-width="2.5" stroke-linecap="round"/>
<line x1="1269.50" y1="1738.90" x2="1269.50" y2="1820.00" stroke="#7f7f7f" stroke-width="2.5"/>
<line x1="1269.50" y1="1853.80" x2="1269.50" y2="1935.80" stroke="#7f7f7f" stroke-width="2.5" stroke-linecap="round"/>
<line x1="1263.25" y1="1738.90" x2="1275.75" y2="1738.90" stroke="#7f7f7f" stroke-width="2.5" stroke-linecap="round"/>
<line x1="1263.25" y1="1935.80" x2="1275.75" y2="1935.80" stroke="#7f7f7f" stroke-width="2.5" stroke-linecap="round"/>
<line x1="1048.50" y1="1732.20" x2="1048.50" y2="1799.80" stroke="#000" stroke-width="2.7"/>
<line x1="1048.50" y1="1833.60" x2="1048.50" y2="1900.40" stroke="#000" stroke-width="2.7" stroke-linecap="round"/>
<line x1="1042.25" y1="1732.20" x2="1054.75" y2="1732.20" stroke="#000" stroke-width="2.7" stroke-linecap="round"/>
<line x1="1042.25" y1="1900.40" x2="1054.75" y2="1900.40" stroke="#000" stroke-width="2.7" stroke-linecap="round"/>
<line x1="1122.10" y1="1705.50" x2="1122.10" y2="1778.90" stroke="#000" stroke-width="2.7"/>
<line x1="1122.10" y1="1812.70" x2="1122.10" y2="1885.20" stroke="#000" stroke-width="2.7" stroke-linecap="round"/>
<line x1="1115.85" y1="1705.50" x2="1128.35" y2="1705.50" stroke="#000" stroke-width="2.7" stroke-linecap="round"/>
<line x1="1115.85" y1="1885.20" x2="1128.35" y2="1885.20" stroke="#000" stroke-width="2.7" stroke-linecap="round"/>
<line x1="1195.90" y1="1661.70" x2="1195.90" y2="1757.50" stroke="#000" stroke-width="2.7"/>
<line x1="1195.90" y1="1791.30" x2="1195.90" y2="1886.70" stroke="#000" stroke-width="2.7" stroke-linecap="round"/>
<line x1="1189.65" y1="1661.70" x2="1202.15" y2="1661.70" stroke="#000" stroke-width="2.7" stroke-linecap="round"/>
<line x1="1189.65" y1="1886.70" x2="1202.15" y2="1886.70" stroke="#000" stroke-width="2.7" stroke-linecap="round"/>
<line x1="1269.50" y1="1722.10" x2="1269.50" y2="1799.60" stroke="#000" stroke-width="2.7"/>
<line x1="1269.50" y1="1833.40" x2="1269.50" y2="1911.00" stroke="#000" stroke-width="2.7" stroke-linecap="round"/>
<line x1="1263.25" y1="1722.10" x2="1275.75" y2="1722.10" stroke="#000" stroke-width="2.7" stroke-linecap="round"/>
<line x1="1263.25" y1="1911.00" x2="1275.75" y2="1911.00" stroke="#000" stroke-width="2.7" stroke-linecap="round"/>
<text transform="translate(922.00,2445.90) scale(1.0000,0.9000)" font-size="23.68" fill="#6e6e6e" stroke="#6e6e6e" stroke-width="0.5" stroke-linejoin="round">grey (unfilled) - LD 1:1 baseline</text>
<text transform="translate(921.60,2473.70) scale(1.0000,0.9000)" font-size="23.66" stroke="#000" stroke-width="0.5" stroke-linejoin="round">black (filled) - LD 1:1 sleep deprivation</text>
</svg></body></html>
